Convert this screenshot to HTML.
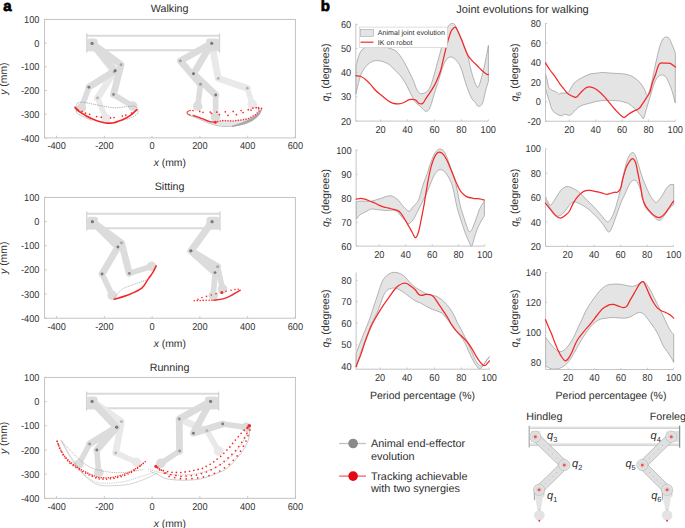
<!DOCTYPE html>
<html><head><meta charset="utf-8"><style>
html,body{margin:0;padding:0;background:#fff;}
svg{display:block;font-family:"Liberation Sans", sans-serif;text-rendering:geometricPrecision;}
</style></head><body>
<svg width="685" height="528" viewBox="0 0 685 528">
<rect width="685" height="528" fill="#fff"/>
<text x="3.2" y="11" font-size="15" font-weight="bold" fill="#000" stroke="#000" stroke-width="0.7">a</text>
<rect x="44.6" y="19.40" width="250.80" height="118.50" fill="none" stroke="#bdbdbd" stroke-width="0.9"/>
<line x1="56.60" y1="137.90" x2="56.60" y2="135.70" stroke="#bdbdbd" stroke-width="0.8"/>
<text x="0" y="0" font-size="10.0" text-anchor="middle" fill="#333" transform="translate(56.60,149.40) scale(0.92,1)">-400</text>
<line x1="104.36" y1="137.90" x2="104.36" y2="135.70" stroke="#bdbdbd" stroke-width="0.8"/>
<text x="0" y="0" font-size="10.0" text-anchor="middle" fill="#333" transform="translate(104.36,149.40) scale(0.92,1)">-200</text>
<line x1="152.12" y1="137.90" x2="152.12" y2="135.70" stroke="#bdbdbd" stroke-width="0.8"/>
<text x="0" y="0" font-size="10.0" text-anchor="middle" fill="#333" transform="translate(152.12,149.40) scale(0.92,1)">0</text>
<line x1="199.88" y1="137.90" x2="199.88" y2="135.70" stroke="#bdbdbd" stroke-width="0.8"/>
<text x="0" y="0" font-size="10.0" text-anchor="middle" fill="#333" transform="translate(199.88,149.40) scale(0.92,1)">200</text>
<line x1="247.64" y1="137.90" x2="247.64" y2="135.70" stroke="#bdbdbd" stroke-width="0.8"/>
<text x="0" y="0" font-size="10.0" text-anchor="middle" fill="#333" transform="translate(247.64,149.40) scale(0.92,1)">400</text>
<line x1="295.40" y1="137.90" x2="295.40" y2="135.70" stroke="#bdbdbd" stroke-width="0.8"/>
<text x="0" y="0" font-size="10.0" text-anchor="middle" fill="#333" transform="translate(295.40,149.40) scale(0.92,1)">600</text>
<line x1="44.6" y1="19.40" x2="46.8" y2="19.40" stroke="#bdbdbd" stroke-width="0.8"/>
<text x="0" y="0" font-size="10.0" text-anchor="end" fill="#333" transform="translate(39.40,23.00) scale(0.92,1)">100</text>
<line x1="44.6" y1="43.10" x2="46.8" y2="43.10" stroke="#bdbdbd" stroke-width="0.8"/>
<text x="0" y="0" font-size="10.0" text-anchor="end" fill="#333" transform="translate(39.40,46.70) scale(0.92,1)">0</text>
<line x1="44.6" y1="66.80" x2="46.8" y2="66.80" stroke="#bdbdbd" stroke-width="0.8"/>
<text x="0" y="0" font-size="10.0" text-anchor="end" fill="#333" transform="translate(39.40,70.40) scale(0.92,1)">-100</text>
<line x1="44.6" y1="90.50" x2="46.8" y2="90.50" stroke="#bdbdbd" stroke-width="0.8"/>
<text x="0" y="0" font-size="10.0" text-anchor="end" fill="#333" transform="translate(39.40,94.10) scale(0.92,1)">-200</text>
<line x1="44.6" y1="114.20" x2="46.8" y2="114.20" stroke="#bdbdbd" stroke-width="0.8"/>
<text x="0" y="0" font-size="10.0" text-anchor="end" fill="#333" transform="translate(39.40,117.80) scale(0.92,1)">-300</text>
<line x1="44.6" y1="137.90" x2="46.8" y2="137.90" stroke="#bdbdbd" stroke-width="0.8"/>
<text x="0" y="0" font-size="10.0" text-anchor="end" fill="#333" transform="translate(39.40,141.50) scale(0.92,1)">-400</text>
<text x="169.60" y="12.30" font-size="10.7" text-anchor="middle" fill="#2e2e2e" font-weight="normal" >Walking</text>
<text x="169.8" y="166.20" font-size="10.4" text-anchor="middle" fill="#2e2e2e"><tspan font-style="italic">x</tspan> (mm)</text>
<text x="0" y="0" font-size="10.4" text-anchor="middle" fill="#2e2e2e" transform="translate(7.3,78.65) rotate(-90)"><tspan font-style="italic">y</tspan> (mm)</text>
<line x1="86.8" y1="35.80" x2="219.5" y2="35.80" stroke="#dadada" stroke-width="2"/>
<line x1="86.8" y1="50.20" x2="219.5" y2="50.20" stroke="#dadada" stroke-width="2"/>
<line x1="86.8" y1="33.60" x2="86.8" y2="52.60" stroke="#d2d2d2" stroke-width="1.3"/>
<line x1="219.5" y1="33.60" x2="219.5" y2="52.60" stroke="#d2d2d2" stroke-width="1.3"/>
<path d="M92.10,43.40 L114.00,72.00 L97.50,98.00" fill="none" stroke="#e9e9e9" stroke-width="6.8" stroke-linecap="round" stroke-linejoin="round"/>
<line x1="97.50" y1="98.00" x2="105.90" y2="118.40" stroke="#e9e9e9" stroke-width="5.6" stroke-linecap="round"/>
<circle cx="105.90" cy="118.40" r="4.8" fill="#e9e9e9"/>
<path d="M92.10,43.40 L115.20,70.70 L88.90,87.20" fill="none" stroke="#dcdcdc" stroke-width="6.8" stroke-linecap="round" stroke-linejoin="round"/>
<line x1="88.90" y1="87.20" x2="81.40" y2="107.90" stroke="#dcdcdc" stroke-width="5.6" stroke-linecap="round"/>
<circle cx="81.40" cy="107.90" r="4.8" fill="#dcdcdc"/>
<path d="M92.10,43.40 L121.10,64.70 L113.50,94.50" fill="none" stroke="#dcdcdc" stroke-width="6.8" stroke-linecap="round" stroke-linejoin="round"/>
<line x1="113.50" y1="94.50" x2="132.70" y2="106.10" stroke="#dcdcdc" stroke-width="5.6" stroke-linecap="round"/>
<circle cx="132.70" cy="106.10" r="4.8" fill="#dcdcdc"/>
<rect x="86.80" y="38.50" width="10.90" height="12.80" rx="3.2" fill="#dcdcdc"/>
<circle cx="92.10" cy="43.40" r="1.6" fill="#7a7a7a"/>
<path d="M211.70,43.30 L218.20,78.40 L247.30,88.20" fill="none" stroke="#e9e9e9" stroke-width="6.8" stroke-linecap="round" stroke-linejoin="round"/>
<line x1="247.30" y1="88.20" x2="252.30" y2="104.50" stroke="#e9e9e9" stroke-width="5.6" stroke-linecap="round"/>
<circle cx="252.30" cy="104.50" r="4.8" fill="#e9e9e9"/>
<path d="M211.70,43.30 L180.30,60.90 L200.50,84.30" fill="none" stroke="#dcdcdc" stroke-width="6.8" stroke-linecap="round" stroke-linejoin="round"/>
<line x1="200.50" y1="84.30" x2="197.70" y2="106.20" stroke="#dcdcdc" stroke-width="5.6" stroke-linecap="round"/>
<circle cx="197.70" cy="106.20" r="4.8" fill="#dcdcdc"/>
<path d="M211.70,43.30 L193.50,73.70 L215.70,95.00" fill="none" stroke="#dcdcdc" stroke-width="6.8" stroke-linecap="round" stroke-linejoin="round"/>
<line x1="215.70" y1="95.00" x2="215.50" y2="117.30" stroke="#dcdcdc" stroke-width="5.6" stroke-linecap="round"/>
<circle cx="215.50" cy="117.30" r="4.8" fill="#dcdcdc"/>
<rect x="206.10" y="38.40" width="13.40" height="12.80" rx="3.2" fill="#dcdcdc"/>
<circle cx="211.70" cy="43.30" r="1.6" fill="#7a7a7a"/>
<circle cx="114.00" cy="72.00" r="1.45" fill="#b4b4b4"/>
<circle cx="97.50" cy="98.00" r="1.45" fill="#b4b4b4"/>
<circle cx="115.20" cy="70.70" r="1.45" fill="#6e6e6e"/>
<circle cx="88.90" cy="87.20" r="1.45" fill="#7c7c7c"/>
<circle cx="121.10" cy="64.70" r="1.45" fill="#a6a6a6"/>
<circle cx="113.50" cy="94.50" r="1.45" fill="#8a8a8a"/>
<circle cx="218.20" cy="78.40" r="1.45" fill="#b4b4b4"/>
<circle cx="247.30" cy="88.20" r="1.45" fill="#b4b4b4"/>
<circle cx="180.30" cy="60.90" r="1.45" fill="#a0a0a0"/>
<circle cx="200.50" cy="84.30" r="1.45" fill="#9a9a9a"/>
<circle cx="193.50" cy="73.70" r="1.45" fill="#6e6e6e"/>
<circle cx="215.70" cy="95.00" r="1.45" fill="#777"/>
<path d="M76.20,106.70 C76.38,106.12 76.33,103.95 77.30,103.20 C78.27,102.45 79.65,102.10 82.00,102.20 C84.35,102.30 87.90,103.15 91.40,103.80 C94.90,104.45 99.12,105.43 103.00,106.10 C106.88,106.77 110.80,107.70 114.70,107.80 C118.60,107.90 123.28,106.98 126.40,106.70 C129.52,106.42 131.65,105.92 133.40,106.10 C135.15,106.28 136.13,106.73 136.90,107.80 C137.67,108.87 138.58,111.03 138.00,112.50 C137.42,113.97 135.33,115.43 133.40,116.60 C131.47,117.77 127.57,119.02 126.40,119.50" fill="none" stroke="#808080" stroke-width="0.6" stroke-dasharray="1.3,0.9"/>
<path d="M76.20,106.70 C76.30,107.67 75.83,110.95 76.80,112.50 C77.77,114.05 79.47,114.67 82.00,116.00 C84.53,117.33 90.33,119.75 92.00,120.50" fill="none" stroke="#a0a0a0" stroke-width="0.6"/>
<path d="M75.00,107.30 C75.78,108.07 77.95,110.55 79.70,111.90 C81.45,113.25 83.55,114.32 85.50,115.40 C87.45,116.48 89.25,117.42 91.40,118.40 C93.55,119.38 96.07,120.53 98.40,121.30 C100.73,122.07 103.07,122.72 105.40,123.00 C107.73,123.28 110.27,123.28 112.40,123.00 C114.53,122.72 116.07,122.07 118.20,121.30 C120.33,120.53 123.05,119.47 125.20,118.40 C127.35,117.33 129.15,116.37 131.10,114.90 C133.05,113.43 135.93,110.48 136.90,109.60" fill="none" stroke="#f42828" stroke-width="1.7" stroke-linecap="round" stroke-linejoin="round"/>
<circle cx="77.9" cy="110.2" r="0.85" fill="#f42828"/>
<circle cx="82" cy="111.4" r="0.85" fill="#f42828"/>
<circle cx="85.5" cy="113.1" r="0.85" fill="#f42828"/>
<circle cx="89.6" cy="114.3" r="0.85" fill="#f42828"/>
<circle cx="96.6" cy="116.6" r="0.85" fill="#f42828"/>
<circle cx="101.3" cy="117.2" r="0.85" fill="#f42828"/>
<circle cx="110.6" cy="117.8" r="0.85" fill="#f42828"/>
<circle cx="114.1" cy="117.5" r="0.85" fill="#f42828"/>
<circle cx="122.3" cy="116" r="0.85" fill="#f42828"/>
<circle cx="125.8" cy="115.1" r="0.85" fill="#f42828"/>
<circle cx="131.6" cy="113.1" r="0.85" fill="#f42828"/>
<path d="M74.5,106.5 L77.5,109 L78.5,112 L76,110 Z" fill="#f42828"/>
<path d="M187.90,114.70 C189.87,115.47 195.53,117.65 199.70,119.30 C203.87,120.95 208.52,123.40 212.90,124.60 C217.28,125.80 221.63,126.40 226.00,126.50 C230.37,126.60 234.93,126.07 239.10,125.20 C243.27,124.33 247.72,123.05 251.00,121.30 C254.28,119.55 257.05,116.67 258.80,114.70 C260.55,112.73 261.05,110.37 261.50,109.50 L259.00,111.00 C258.43,111.62 257.38,113.42 255.60,114.70 C253.82,115.98 250.60,117.82 248.30,118.70 C246.00,119.58 244.42,119.62 241.80,120.00 C239.18,120.38 235.90,120.90 232.60,121.00 C229.30,121.10 224.90,120.38 222.00,120.60 C219.10,120.82 217.38,122.18 215.20,122.30 C213.02,122.42 211.05,121.90 208.90,121.30 C206.75,120.70 204.93,119.68 202.30,118.70 C199.67,117.72 194.63,115.95 193.10,115.40 Z" fill="#e6e6e6" stroke="none"/>
<path d="M187.90,114.70 C189.87,115.47 195.53,117.65 199.70,119.30 C203.87,120.95 208.52,123.40 212.90,124.60 C217.28,125.80 221.63,126.40 226.00,126.50 C230.37,126.60 234.93,126.07 239.10,125.20 C243.27,124.33 247.72,123.05 251.00,121.30 C254.28,119.55 257.05,116.67 258.80,114.70 C260.55,112.73 261.05,110.37 261.50,109.50" fill="none" stroke="#c4c4c4" stroke-width="1.0"/>
<path d="M232,126.3 Q251,124 258.8,114.7 L261.5,109.5 Q255,120 232,126.3 Z" fill="#a8a8a8" stroke="#a8a8a8" stroke-width="1.2"/>
<path d="M190.50,110.40 L187.30,111.50 L187.00,113.60 L190.50,115.20" fill="none" stroke="#f42828" stroke-width="1.0" stroke-linecap="round" stroke-linejoin="round"/>
<circle cx="193" cy="110.5" r="0.85" fill="#f42828"/>
<circle cx="199.7" cy="111.4" r="0.85" fill="#f42828"/>
<circle cx="210.2" cy="112.1" r="0.85" fill="#f42828"/>
<circle cx="216.8" cy="112.1" r="0.85" fill="#f42828"/>
<circle cx="225.3" cy="111.8" r="0.85" fill="#f42828"/>
<circle cx="233.2" cy="111.4" r="0.85" fill="#f42828"/>
<circle cx="241.1" cy="110.5" r="0.85" fill="#f42828"/>
<circle cx="248.3" cy="109.7" r="0.85" fill="#f42828"/>
<circle cx="252.9" cy="108.1" r="0.85" fill="#f42828"/>
<circle cx="256.2" cy="107.7" r="0.85" fill="#f42828"/>
<circle cx="258.5" cy="107.6" r="0.85" fill="#f42828"/>
<circle cx="261.5" cy="108.4" r="0.85" fill="#f42828"/>
<circle cx="203" cy="112.3" r="0.85" fill="#f42828"/>
<circle cx="211.5" cy="113.4" r="0.85" fill="#f42828"/>
<circle cx="219.4" cy="114.7" r="0.85" fill="#f42828"/>
<circle cx="228" cy="115.4" r="0.85" fill="#f42828"/>
<circle cx="236.5" cy="114.7" r="0.85" fill="#f42828"/>
<circle cx="243.1" cy="112.5" r="0.85" fill="#f42828"/>
<circle cx="251" cy="110.1" r="0.85" fill="#f42828"/>
<circle cx="258.8" cy="108.8" r="0.85" fill="#f42828"/>
<path d="M193.10,115.40 C194.63,115.95 199.67,117.72 202.30,118.70 C204.93,119.68 206.75,120.70 208.90,121.30 C211.05,121.90 214.15,122.13 215.20,122.30" fill="none" stroke="#f42828" stroke-width="1.3" stroke-linecap="round" stroke-linejoin="round"/>
<circle cx="215.20" cy="122.30" r="0.8" fill="#f42828"/>
<circle cx="217.72" cy="121.67" r="0.8" fill="#f42828"/>
<circle cx="220.24" cy="121.04" r="0.8" fill="#f42828"/>
<circle cx="222.79" cy="120.63" r="0.8" fill="#f42828"/>
<circle cx="225.39" cy="120.73" r="0.8" fill="#f42828"/>
<circle cx="227.99" cy="120.83" r="0.8" fill="#f42828"/>
<circle cx="230.58" cy="120.92" r="0.8" fill="#f42828"/>
<circle cx="233.18" cy="120.94" r="0.8" fill="#f42828"/>
<circle cx="235.76" cy="120.66" r="0.8" fill="#f42828"/>
<circle cx="238.35" cy="120.38" r="0.8" fill="#f42828"/>
<circle cx="240.93" cy="120.09" r="0.8" fill="#f42828"/>
<circle cx="243.50" cy="119.66" r="0.8" fill="#f42828"/>
<circle cx="246.04" cy="119.15" r="0.8" fill="#f42828"/>
<circle cx="248.56" cy="118.56" r="0.8" fill="#f42828"/>
<circle cx="250.84" cy="117.31" r="0.8" fill="#f42828"/>
<circle cx="253.12" cy="116.06" r="0.8" fill="#f42828"/>
<circle cx="255.40" cy="114.81" r="0.8" fill="#f42828"/>
<circle cx="257.21" cy="112.95" r="0.8" fill="#f42828"/>
<circle cx="258.97" cy="111.04" r="0.8" fill="#f42828"/>
<circle cx="215.3" cy="122.2" r="1.5" fill="#f42828"/>
<rect x="44.6" y="197.40" width="250.80" height="120.80" fill="none" stroke="#bdbdbd" stroke-width="0.9"/>
<line x1="56.60" y1="318.20" x2="56.60" y2="316.00" stroke="#bdbdbd" stroke-width="0.8"/>
<text x="0" y="0" font-size="10.0" text-anchor="middle" fill="#333" transform="translate(56.60,329.70) scale(0.92,1)">-400</text>
<line x1="104.36" y1="318.20" x2="104.36" y2="316.00" stroke="#bdbdbd" stroke-width="0.8"/>
<text x="0" y="0" font-size="10.0" text-anchor="middle" fill="#333" transform="translate(104.36,329.70) scale(0.92,1)">-200</text>
<line x1="152.12" y1="318.20" x2="152.12" y2="316.00" stroke="#bdbdbd" stroke-width="0.8"/>
<text x="0" y="0" font-size="10.0" text-anchor="middle" fill="#333" transform="translate(152.12,329.70) scale(0.92,1)">0</text>
<line x1="199.88" y1="318.20" x2="199.88" y2="316.00" stroke="#bdbdbd" stroke-width="0.8"/>
<text x="0" y="0" font-size="10.0" text-anchor="middle" fill="#333" transform="translate(199.88,329.70) scale(0.92,1)">200</text>
<line x1="247.64" y1="318.20" x2="247.64" y2="316.00" stroke="#bdbdbd" stroke-width="0.8"/>
<text x="0" y="0" font-size="10.0" text-anchor="middle" fill="#333" transform="translate(247.64,329.70) scale(0.92,1)">400</text>
<line x1="295.40" y1="318.20" x2="295.40" y2="316.00" stroke="#bdbdbd" stroke-width="0.8"/>
<text x="0" y="0" font-size="10.0" text-anchor="middle" fill="#333" transform="translate(295.40,329.70) scale(0.92,1)">600</text>
<line x1="44.6" y1="197.40" x2="46.8" y2="197.40" stroke="#bdbdbd" stroke-width="0.8"/>
<text x="0" y="0" font-size="10.0" text-anchor="end" fill="#333" transform="translate(39.40,201.00) scale(0.92,1)">100</text>
<line x1="44.6" y1="221.56" x2="46.8" y2="221.56" stroke="#bdbdbd" stroke-width="0.8"/>
<text x="0" y="0" font-size="10.0" text-anchor="end" fill="#333" transform="translate(39.40,225.16) scale(0.92,1)">0</text>
<line x1="44.6" y1="245.72" x2="46.8" y2="245.72" stroke="#bdbdbd" stroke-width="0.8"/>
<text x="0" y="0" font-size="10.0" text-anchor="end" fill="#333" transform="translate(39.40,249.32) scale(0.92,1)">-100</text>
<line x1="44.6" y1="269.88" x2="46.8" y2="269.88" stroke="#bdbdbd" stroke-width="0.8"/>
<text x="0" y="0" font-size="10.0" text-anchor="end" fill="#333" transform="translate(39.40,273.48) scale(0.92,1)">-200</text>
<line x1="44.6" y1="294.04" x2="46.8" y2="294.04" stroke="#bdbdbd" stroke-width="0.8"/>
<text x="0" y="0" font-size="10.0" text-anchor="end" fill="#333" transform="translate(39.40,297.64) scale(0.92,1)">-300</text>
<line x1="44.6" y1="318.20" x2="46.8" y2="318.20" stroke="#bdbdbd" stroke-width="0.8"/>
<text x="0" y="0" font-size="10.0" text-anchor="end" fill="#333" transform="translate(39.40,321.80) scale(0.92,1)">-400</text>
<text x="169.60" y="189.50" font-size="10.7" text-anchor="middle" fill="#2e2e2e" font-weight="normal" >Sitting</text>
<text x="169.8" y="346.50" font-size="10.4" text-anchor="middle" fill="#2e2e2e"><tspan font-style="italic">x</tspan> (mm)</text>
<text x="0" y="0" font-size="10.4" text-anchor="middle" fill="#2e2e2e" transform="translate(7.3,257.80) rotate(-90)"><tspan font-style="italic">y</tspan> (mm)</text>
<line x1="86.8" y1="213.80" x2="220.0" y2="213.80" stroke="#dadada" stroke-width="2"/>
<line x1="86.8" y1="228.20" x2="220.0" y2="228.20" stroke="#dadada" stroke-width="2"/>
<line x1="86.8" y1="211.60" x2="86.8" y2="230.60" stroke="#d2d2d2" stroke-width="1.3"/>
<line x1="220.0" y1="211.60" x2="220.0" y2="230.60" stroke="#d2d2d2" stroke-width="1.3"/>
<path d="M92.40,221.70 L117.90,247.00 L102.10,274.00" fill="none" stroke="#dcdcdc" stroke-width="6.8" stroke-linecap="round" stroke-linejoin="round"/>
<line x1="102.10" y1="274.00" x2="112.20" y2="295.30" stroke="#dcdcdc" stroke-width="5.6" stroke-linecap="round"/>
<circle cx="112.20" cy="295.30" r="4.8" fill="#dcdcdc"/>
<path d="M92.40,221.70 L121.50,242.90 L129.30,273.40" fill="none" stroke="#dcdcdc" stroke-width="6.8" stroke-linecap="round" stroke-linejoin="round"/>
<line x1="129.30" y1="273.40" x2="151.60" y2="266.40" stroke="#dcdcdc" stroke-width="5.6" stroke-linecap="round"/>
<circle cx="151.60" cy="266.40" r="4.8" fill="#dcdcdc"/>
<rect x="86.80" y="216.80" width="11.20" height="12.80" rx="3.2" fill="#dcdcdc"/>
<circle cx="92.40" cy="221.70" r="1.6" fill="#7a7a7a"/>
<path d="M212.10,221.70 L190.90,250.90 L215.00,272.60" fill="none" stroke="#dcdcdc" stroke-width="6.8" stroke-linecap="round" stroke-linejoin="round"/>
<line x1="215.00" y1="272.60" x2="213.30" y2="295.60" stroke="#dcdcdc" stroke-width="5.6" stroke-linecap="round"/>
<circle cx="213.30" cy="295.60" r="4.8" fill="#dcdcdc"/>
<path d="M212.10,221.70 L190.90,250.90 L217.60,266.70" fill="none" stroke="#dcdcdc" stroke-width="6.8" stroke-linecap="round" stroke-linejoin="round"/>
<line x1="217.60" y1="266.70" x2="222.50" y2="289.00" stroke="#dcdcdc" stroke-width="5.6" stroke-linecap="round"/>
<circle cx="222.50" cy="289.00" r="4.8" fill="#dcdcdc"/>
<rect x="206.50" y="216.80" width="13.50" height="12.80" rx="3.2" fill="#dcdcdc"/>
<circle cx="212.10" cy="221.70" r="1.6" fill="#7a7a7a"/>
<circle cx="117.90" cy="247.00" r="1.45" fill="#7a7a7a"/>
<circle cx="102.10" cy="274.00" r="1.45" fill="#7a7a7a"/>
<circle cx="121.50" cy="242.90" r="1.45" fill="#a8a8a8"/>
<circle cx="129.30" cy="273.40" r="1.45" fill="#8c8c8c"/>
<circle cx="190.90" cy="250.90" r="1.45" fill="#7a7a7a"/>
<circle cx="215.00" cy="272.60" r="1.45" fill="#7a7a7a"/>
<circle cx="190.90" cy="250.90" r="1.45" fill="#777"/>
<circle cx="217.60" cy="266.70" r="1.45" fill="#a6a6a6"/>
<path d="M114.50,298.00 C115.75,296.57 118.98,291.60 122.00,289.40 C125.02,287.20 128.43,286.43 132.60,284.80 C136.77,283.17 143.77,281.23 147.00,279.60 C150.23,277.97 151.17,275.77 152.00,275.00" fill="none" stroke="#8a8a8a" stroke-width="0.6" stroke-dasharray="1.2,0.8"/>
<path d="M114.20,299.30 C116.60,298.53 124.00,296.57 128.60,294.70 C133.20,292.83 138.52,290.73 141.80,288.10 C145.08,285.47 146.45,281.53 148.30,278.90 C150.15,276.27 151.58,274.48 152.90,272.30 C154.22,270.12 155.65,266.88 156.20,265.80" fill="none" stroke="#f42828" stroke-width="1.5" stroke-linecap="round" stroke-linejoin="round"/>
<circle cx="194.2" cy="300.8" r="0.8" fill="#f42828"/>
<circle cx="197.2" cy="300.6" r="0.8" fill="#f42828"/>
<circle cx="200.2" cy="300.5" r="0.8" fill="#f42828"/>
<circle cx="203.2" cy="300.4" r="0.8" fill="#f42828"/>
<circle cx="206.2" cy="300.3" r="0.8" fill="#f42828"/>
<circle cx="209.2" cy="300.3" r="0.8" fill="#f42828"/>
<circle cx="212" cy="300.3" r="0.8" fill="#f42828"/>
<path d="M213.90,300.20 C215.43,299.98 220.25,299.67 223.10,298.90 C225.95,298.13 228.85,296.65 231.00,295.60 C233.15,294.55 234.47,293.48 236.00,292.60 C237.53,291.72 239.50,290.68 240.20,290.30" fill="none" stroke="#f42828" stroke-width="1.4" stroke-linecap="round" stroke-linejoin="round"/>
<circle cx="198" cy="299.2" r="0.8" fill="#f42828"/>
<circle cx="202" cy="297.6" r="0.8" fill="#f42828"/>
<circle cx="206.5" cy="296.4" r="0.8" fill="#f42828"/>
<circle cx="211.3" cy="295" r="0.8" fill="#f42828"/>
<circle cx="216" cy="293.8" r="0.8" fill="#f42828"/>
<circle cx="226" cy="291.3" r="0.8" fill="#f42828"/>
<circle cx="231" cy="290.3" r="0.8" fill="#f42828"/>
<circle cx="235" cy="289.5" r="0.8" fill="#f42828"/>
<circle cx="238.3" cy="289.2" r="0.8" fill="#f42828"/>
<circle cx="221.8" cy="292.4" r="1.5" fill="#f42828"/>
<rect x="44.6" y="377.40" width="250.80" height="120.90" fill="none" stroke="#bdbdbd" stroke-width="0.9"/>
<line x1="56.60" y1="498.30" x2="56.60" y2="496.10" stroke="#bdbdbd" stroke-width="0.8"/>
<text x="0" y="0" font-size="10.0" text-anchor="middle" fill="#333" transform="translate(56.60,509.80) scale(0.92,1)">-400</text>
<line x1="104.36" y1="498.30" x2="104.36" y2="496.10" stroke="#bdbdbd" stroke-width="0.8"/>
<text x="0" y="0" font-size="10.0" text-anchor="middle" fill="#333" transform="translate(104.36,509.80) scale(0.92,1)">-200</text>
<line x1="152.12" y1="498.30" x2="152.12" y2="496.10" stroke="#bdbdbd" stroke-width="0.8"/>
<text x="0" y="0" font-size="10.0" text-anchor="middle" fill="#333" transform="translate(152.12,509.80) scale(0.92,1)">0</text>
<line x1="199.88" y1="498.30" x2="199.88" y2="496.10" stroke="#bdbdbd" stroke-width="0.8"/>
<text x="0" y="0" font-size="10.0" text-anchor="middle" fill="#333" transform="translate(199.88,509.80) scale(0.92,1)">200</text>
<line x1="247.64" y1="498.30" x2="247.64" y2="496.10" stroke="#bdbdbd" stroke-width="0.8"/>
<text x="0" y="0" font-size="10.0" text-anchor="middle" fill="#333" transform="translate(247.64,509.80) scale(0.92,1)">400</text>
<line x1="295.40" y1="498.30" x2="295.40" y2="496.10" stroke="#bdbdbd" stroke-width="0.8"/>
<text x="0" y="0" font-size="10.0" text-anchor="middle" fill="#333" transform="translate(295.40,509.80) scale(0.92,1)">600</text>
<line x1="44.6" y1="377.40" x2="46.8" y2="377.40" stroke="#bdbdbd" stroke-width="0.8"/>
<text x="0" y="0" font-size="10.0" text-anchor="end" fill="#333" transform="translate(39.40,381.00) scale(0.92,1)">100</text>
<line x1="44.6" y1="401.58" x2="46.8" y2="401.58" stroke="#bdbdbd" stroke-width="0.8"/>
<text x="0" y="0" font-size="10.0" text-anchor="end" fill="#333" transform="translate(39.40,405.18) scale(0.92,1)">0</text>
<line x1="44.6" y1="425.76" x2="46.8" y2="425.76" stroke="#bdbdbd" stroke-width="0.8"/>
<text x="0" y="0" font-size="10.0" text-anchor="end" fill="#333" transform="translate(39.40,429.36) scale(0.92,1)">-100</text>
<line x1="44.6" y1="449.94" x2="46.8" y2="449.94" stroke="#bdbdbd" stroke-width="0.8"/>
<text x="0" y="0" font-size="10.0" text-anchor="end" fill="#333" transform="translate(39.40,453.54) scale(0.92,1)">-200</text>
<line x1="44.6" y1="474.12" x2="46.8" y2="474.12" stroke="#bdbdbd" stroke-width="0.8"/>
<text x="0" y="0" font-size="10.0" text-anchor="end" fill="#333" transform="translate(39.40,477.72) scale(0.92,1)">-300</text>
<line x1="44.6" y1="498.30" x2="46.8" y2="498.30" stroke="#bdbdbd" stroke-width="0.8"/>
<text x="0" y="0" font-size="10.0" text-anchor="end" fill="#333" transform="translate(39.40,501.90) scale(0.92,1)">-400</text>
<text x="169.60" y="370.80" font-size="10.7" text-anchor="middle" fill="#2e2e2e" font-weight="normal" >Running</text>
<text x="169.8" y="526.50" font-size="10.4" text-anchor="middle" fill="#2e2e2e"><tspan font-style="italic">x</tspan> (mm)</text>
<text x="0" y="0" font-size="10.4" text-anchor="middle" fill="#2e2e2e" transform="translate(7.3,437.85) rotate(-90)"><tspan font-style="italic">y</tspan> (mm)</text>
<line x1="86.6" y1="393.80" x2="218.6" y2="393.80" stroke="#dadada" stroke-width="2"/>
<line x1="86.6" y1="408.20" x2="218.6" y2="408.20" stroke="#dadada" stroke-width="2"/>
<line x1="86.6" y1="391.60" x2="86.6" y2="410.60" stroke="#d2d2d2" stroke-width="1.3"/>
<line x1="218.6" y1="391.60" x2="218.6" y2="410.60" stroke="#d2d2d2" stroke-width="1.3"/>
<path d="M92.05,401.40 L121.40,421.60 L115.70,452.90" fill="none" stroke="#e9e9e9" stroke-width="6.8" stroke-linecap="round" stroke-linejoin="round"/>
<line x1="115.70" y1="452.90" x2="136.50" y2="462.30" stroke="#e9e9e9" stroke-width="5.6" stroke-linecap="round"/>
<circle cx="136.50" cy="462.30" r="4.8" fill="#e9e9e9"/>
<path d="M92.05,401.40 L116.70,427.30 L89.60,444.00" fill="none" stroke="#dcdcdc" stroke-width="6.8" stroke-linecap="round" stroke-linejoin="round"/>
<line x1="89.60" y1="444.00" x2="78.80" y2="464.20" stroke="#dcdcdc" stroke-width="5.6" stroke-linecap="round"/>
<circle cx="78.80" cy="464.20" r="4.8" fill="#dcdcdc"/>
<path d="M92.05,401.40 L116.70,427.30 L96.80,450.00" fill="none" stroke="#dcdcdc" stroke-width="6.8" stroke-linecap="round" stroke-linejoin="round"/>
<line x1="96.80" y1="450.00" x2="98.70" y2="472.70" stroke="#dcdcdc" stroke-width="5.6" stroke-linecap="round"/>
<circle cx="98.70" cy="472.70" r="4.8" fill="#dcdcdc"/>
<rect x="86.60" y="396.50" width="11.05" height="12.80" rx="3.2" fill="#dcdcdc"/>
<circle cx="92.05" cy="401.40" r="1.6" fill="#7a7a7a"/>
<path d="M210.60,401.40 L179.20,419.00 L206.90,430.70" fill="none" stroke="#e9e9e9" stroke-width="6.8" stroke-linecap="round" stroke-linejoin="round"/>
<line x1="206.90" y1="430.70" x2="218.60" y2="451.00" stroke="#e9e9e9" stroke-width="5.6" stroke-linecap="round"/>
<circle cx="218.60" cy="451.00" r="4.8" fill="#e9e9e9"/>
<path d="M210.60,401.40 L179.20,419.00 L179.60,451.00" fill="none" stroke="#dcdcdc" stroke-width="6.8" stroke-linecap="round" stroke-linejoin="round"/>
<line x1="179.60" y1="451.00" x2="160.80" y2="463.30" stroke="#dcdcdc" stroke-width="5.6" stroke-linecap="round"/>
<circle cx="160.80" cy="463.30" r="4.8" fill="#dcdcdc"/>
<path d="M210.60,401.40 L193.40,433.20 L222.70,423.90" fill="none" stroke="#dcdcdc" stroke-width="6.8" stroke-linecap="round" stroke-linejoin="round"/>
<line x1="222.70" y1="423.90" x2="246.00" y2="427.30" stroke="#dcdcdc" stroke-width="5.6" stroke-linecap="round"/>
<circle cx="246.00" cy="427.30" r="4.8" fill="#dcdcdc"/>
<rect x="205.00" y="396.50" width="13.60" height="12.80" rx="3.2" fill="#dcdcdc"/>
<circle cx="210.60" cy="401.40" r="1.6" fill="#7a7a7a"/>
<circle cx="121.40" cy="421.60" r="1.45" fill="#b4b4b4"/>
<circle cx="115.70" cy="452.90" r="1.45" fill="#b4b4b4"/>
<circle cx="116.70" cy="427.30" r="1.45" fill="#6e6e6e"/>
<circle cx="89.60" cy="444.00" r="1.45" fill="#9a9a9a"/>
<circle cx="116.70" cy="427.30" r="1.45" fill="#7a7a7a"/>
<circle cx="96.80" cy="450.00" r="1.45" fill="#7a7a7a"/>
<circle cx="179.20" cy="419.00" r="1.45" fill="#b4b4b4"/>
<circle cx="206.90" cy="430.70" r="1.45" fill="#b4b4b4"/>
<circle cx="179.20" cy="419.00" r="1.45" fill="#9a9a9a"/>
<circle cx="179.60" cy="451.00" r="1.45" fill="#9a9a9a"/>
<circle cx="193.40" cy="433.20" r="1.45" fill="#7a7a7a"/>
<circle cx="222.70" cy="423.90" r="1.45" fill="#7a7a7a"/>
<path d="M61.20,440.60 C62.55,442.08 66.35,446.42 69.30,449.50 C72.25,452.58 75.43,456.17 78.90,459.10 C82.37,462.03 86.08,465.10 90.10,467.10 C94.12,469.10 98.45,470.17 103.00,471.10 C107.55,472.03 112.85,472.57 117.40,472.70 C121.95,472.83 126.02,472.43 130.30,471.90 C134.58,471.37 140.97,469.90 143.10,469.50" fill="none" stroke="#858585" stroke-width="0.55" stroke-dasharray="1.3,0.9"/>
<path d="M61.20,440.60 C62.67,443.00 66.52,449.77 70.00,455.00 C73.48,460.23 77.93,467.57 82.10,472.00 C86.27,476.43 90.72,479.73 95.00,481.60 C99.28,483.47 102.98,483.20 107.80,483.20 C112.62,483.20 118.55,482.67 123.90,481.60 C129.25,480.53 135.08,478.28 139.90,476.80 C144.72,475.32 150.65,473.38 152.80,472.70" fill="none" stroke="#9a9a9a" stroke-width="0.5" stroke-dasharray="1.3,0.9"/>
<path d="M61.20,440.60 C63.00,443.83 68.03,454.10 72.00,460.00 C75.97,465.90 80.63,471.87 85.00,476.00 C89.37,480.13 93.33,483.20 98.20,484.80 C103.07,486.40 108.85,485.73 114.20,485.60 C119.55,485.47 124.93,485.20 130.30,484.00 C135.67,482.80 141.85,480.28 146.40,478.40 C150.95,476.52 155.73,473.65 157.60,472.70" fill="none" stroke="#a8a8a8" stroke-width="0.5"/>
<circle cx="57.20" cy="441.40" r="0.8" fill="#f42828"/>
<circle cx="58.04" cy="443.65" r="0.8" fill="#f42828"/>
<circle cx="58.89" cy="445.89" r="0.8" fill="#f42828"/>
<circle cx="59.78" cy="448.12" r="0.8" fill="#f42828"/>
<circle cx="60.95" cy="450.21" r="0.8" fill="#f42828"/>
<circle cx="62.13" cy="452.30" r="0.8" fill="#f42828"/>
<circle cx="63.30" cy="454.40" r="0.8" fill="#f42828"/>
<circle cx="64.75" cy="456.30" r="0.8" fill="#f42828"/>
<circle cx="66.33" cy="458.10" r="0.8" fill="#f42828"/>
<circle cx="67.91" cy="459.91" r="0.8" fill="#f42828"/>
<circle cx="69.53" cy="461.67" r="0.8" fill="#f42828"/>
<circle cx="71.45" cy="463.11" r="0.8" fill="#f42828"/>
<circle cx="73.37" cy="464.55" r="0.8" fill="#f42828"/>
<circle cx="75.29" cy="465.99" r="0.8" fill="#f42828"/>
<circle cx="77.30" cy="467.30" r="0.8" fill="#f42828"/>
<circle cx="79.34" cy="468.57" r="0.8" fill="#f42828"/>
<circle cx="81.37" cy="469.84" r="0.8" fill="#f42828"/>
<circle cx="83.48" cy="470.99" r="0.8" fill="#f42828"/>
<circle cx="85.62" cy="472.06" r="0.8" fill="#f42828"/>
<circle cx="87.77" cy="473.14" r="0.8" fill="#f42828"/>
<circle cx="89.92" cy="474.21" r="0.8" fill="#f42828"/>
<circle cx="92.13" cy="475.13" r="0.8" fill="#f42828"/>
<circle cx="94.36" cy="476.03" r="0.8" fill="#f42828"/>
<circle cx="96.58" cy="476.94" r="0.8" fill="#f42828"/>
<circle cx="98.85" cy="477.63" r="0.8" fill="#f42828"/>
<circle cx="101.25" cy="477.75" r="0.8" fill="#f42828"/>
<circle cx="103.64" cy="477.87" r="0.8" fill="#f42828"/>
<circle cx="106.04" cy="477.99" r="0.8" fill="#f42828"/>
<circle cx="108.43" cy="477.75" r="0.8" fill="#f42828"/>
<circle cx="110.81" cy="477.48" r="0.8" fill="#f42828"/>
<circle cx="113.20" cy="477.21" r="0.8" fill="#f42828"/>
<circle cx="115.55" cy="476.77" r="0.8" fill="#f42828"/>
<circle cx="117.88" cy="476.19" r="0.8" fill="#f42828"/>
<circle cx="120.21" cy="475.62" r="0.8" fill="#f42828"/>
<circle cx="122.53" cy="475.01" r="0.8" fill="#f42828"/>
<circle cx="124.76" cy="474.12" r="0.8" fill="#f42828"/>
<circle cx="126.99" cy="473.23" r="0.8" fill="#f42828"/>
<circle cx="129.21" cy="472.33" r="0.8" fill="#f42828"/>
<circle cx="131.35" cy="471.27" r="0.8" fill="#f42828"/>
<circle cx="133.41" cy="470.03" r="0.8" fill="#f42828"/>
<circle cx="135.47" cy="468.80" r="0.8" fill="#f42828"/>
<circle cx="137.53" cy="467.56" r="0.8" fill="#f42828"/>
<circle cx="139.49" cy="466.19" r="0.8" fill="#f42828"/>
<circle cx="141.39" cy="464.73" r="0.8" fill="#f42828"/>
<circle cx="143.30" cy="463.27" r="0.8" fill="#f42828"/>
<circle cx="145.20" cy="461.80" r="0.8" fill="#f42828"/>
<circle cx="57.20" cy="441.40" r="0.8" fill="#f42828"/>
<circle cx="58.39" cy="444.90" r="0.8" fill="#f42828"/>
<circle cx="59.58" cy="448.41" r="0.8" fill="#f42828"/>
<circle cx="61.27" cy="451.70" r="0.8" fill="#f42828"/>
<circle cx="62.97" cy="454.98" r="0.8" fill="#f42828"/>
<circle cx="65.09" cy="457.99" r="0.8" fill="#f42828"/>
<circle cx="67.52" cy="460.77" r="0.8" fill="#f42828"/>
<circle cx="70.10" cy="463.40" r="0.8" fill="#f42828"/>
<circle cx="73.06" cy="465.62" r="0.8" fill="#f42828"/>
<circle cx="76.04" cy="467.81" r="0.8" fill="#f42828"/>
<circle cx="79.18" cy="469.77" r="0.8" fill="#f42828"/>
<circle cx="82.33" cy="471.71" r="0.8" fill="#f42828"/>
<circle cx="85.64" cy="473.37" r="0.8" fill="#f42828"/>
<circle cx="88.95" cy="475.02" r="0.8" fill="#f42828"/>
<circle cx="92.33" cy="476.51" r="0.8" fill="#f42828"/>
<circle cx="95.76" cy="477.91" r="0.8" fill="#f42828"/>
<circle cx="99.26" cy="478.95" r="0.8" fill="#f42828"/>
<circle cx="102.96" cy="479.14" r="0.8" fill="#f42828"/>
<circle cx="106.65" cy="479.25" r="0.8" fill="#f42828"/>
<circle cx="110.33" cy="478.84" r="0.8" fill="#f42828"/>
<circle cx="114.01" cy="478.42" r="0.8" fill="#f42828"/>
<circle cx="117.60" cy="477.56" r="0.8" fill="#f42828"/>
<circle cx="121.20" cy="476.67" r="0.8" fill="#f42828"/>
<circle cx="124.68" cy="475.45" r="0.8" fill="#f42828"/>
<circle cx="128.11" cy="474.07" r="0.8" fill="#f42828"/>
<circle cx="131.41" cy="472.44" r="0.8" fill="#f42828"/>
<circle cx="134.47" cy="470.36" r="0.8" fill="#f42828"/>
<circle cx="137.53" cy="468.28" r="0.8" fill="#f42828"/>
<circle cx="140.40" cy="465.95" r="0.8" fill="#f42828"/>
<circle cx="143.21" cy="463.54" r="0.8" fill="#f42828"/>
<path d="M150.00,471.40 C151.33,471.93 155.33,473.40 158.00,474.60 C160.67,475.80 162.00,477.67 166.00,478.60 C170.00,479.53 176.33,480.13 182.00,480.20 C187.67,480.27 194.50,480.03 200.00,479.00 C205.50,477.97 210.50,475.80 215.00,474.00 C219.50,472.20 222.83,471.45 227.00,468.20 C231.17,464.95 236.50,459.05 240.00,454.50 C243.50,449.95 246.33,445.32 248.00,440.90 C249.67,436.48 249.67,430.15 250.00,428.00" fill="none" stroke="#9a9a9a" stroke-width="0.5"/>
<path d="M148.00,469.00 C150.00,469.58 155.50,471.50 160.00,472.50 C164.50,473.50 169.17,474.75 175.00,475.00 C180.83,475.25 188.83,475.00 195.00,474.00 C201.17,473.00 206.83,471.17 212.00,469.00 C217.17,466.83 221.67,464.33 226.00,461.00 C230.33,457.67 234.67,453.17 238.00,449.00 C241.33,444.83 244.08,439.83 246.00,436.00 C247.92,432.17 248.92,427.67 249.50,426.00" fill="none" stroke="#888" stroke-width="0.5" stroke-dasharray="1.3,0.9"/>
<circle cx="155.60" cy="466.60" r="0.85" fill="#f42828"/>
<circle cx="159.45" cy="468.74" r="0.85" fill="#f42828"/>
<circle cx="163.35" cy="470.71" r="0.85" fill="#f42828"/>
<circle cx="167.67" cy="471.56" r="0.85" fill="#f42828"/>
<circle cx="172.01" cy="472.25" r="0.85" fill="#f42828"/>
<circle cx="176.40" cy="472.44" r="0.85" fill="#f42828"/>
<circle cx="180.79" cy="472.49" r="0.85" fill="#f42828"/>
<circle cx="185.15" cy="471.88" r="0.85" fill="#f42828"/>
<circle cx="189.51" cy="471.27" r="0.85" fill="#f42828"/>
<circle cx="193.81" cy="470.35" r="0.85" fill="#f42828"/>
<circle cx="198.10" cy="469.39" r="0.85" fill="#f42828"/>
<circle cx="202.39" cy="468.42" r="0.85" fill="#f42828"/>
<circle cx="206.26" cy="466.34" r="0.85" fill="#f42828"/>
<circle cx="210.12" cy="464.23" r="0.85" fill="#f42828"/>
<circle cx="213.77" cy="461.79" r="0.85" fill="#f42828"/>
<circle cx="217.21" cy="459.05" r="0.85" fill="#f42828"/>
<circle cx="220.65" cy="456.30" r="0.85" fill="#f42828"/>
<circle cx="223.81" cy="453.25" r="0.85" fill="#f42828"/>
<circle cx="226.90" cy="450.12" r="0.85" fill="#f42828"/>
<circle cx="229.88" cy="446.89" r="0.85" fill="#f42828"/>
<circle cx="232.63" cy="443.46" r="0.85" fill="#f42828"/>
<circle cx="235.40" cy="440.03" r="0.85" fill="#f42828"/>
<circle cx="238.24" cy="436.67" r="0.85" fill="#f42828"/>
<circle cx="241.13" cy="433.36" r="0.85" fill="#f42828"/>
<circle cx="244.21" cy="430.22" r="0.85" fill="#f42828"/>
<circle cx="247.43" cy="427.23" r="0.85" fill="#f42828"/>
<circle cx="157.00" cy="467.50" r="0.85" fill="#f42828"/>
<circle cx="161.44" cy="470.20" r="0.85" fill="#f42828"/>
<circle cx="165.89" cy="472.90" r="0.85" fill="#f42828"/>
<circle cx="170.74" cy="474.53" r="0.85" fill="#f42828"/>
<circle cx="175.86" cy="475.42" r="0.85" fill="#f42828"/>
<circle cx="180.98" cy="476.31" r="0.85" fill="#f42828"/>
<circle cx="186.14" cy="476.09" r="0.85" fill="#f42828"/>
<circle cx="191.32" cy="475.56" r="0.85" fill="#f42828"/>
<circle cx="196.49" cy="475.03" r="0.85" fill="#f42828"/>
<circle cx="201.47" cy="473.54" r="0.85" fill="#f42828"/>
<circle cx="206.43" cy="471.99" r="0.85" fill="#f42828"/>
<circle cx="211.12" cy="469.79" r="0.85" fill="#f42828"/>
<circle cx="215.68" cy="467.29" r="0.85" fill="#f42828"/>
<circle cx="220.15" cy="464.66" r="0.85" fill="#f42828"/>
<circle cx="224.13" cy="461.32" r="0.85" fill="#f42828"/>
<circle cx="228.09" cy="457.95" r="0.85" fill="#f42828"/>
<circle cx="231.90" cy="454.41" r="0.85" fill="#f42828"/>
<circle cx="235.53" cy="450.71" r="0.85" fill="#f42828"/>
<circle cx="238.74" cy="446.61" r="0.85" fill="#f42828"/>
<circle cx="241.72" cy="442.36" r="0.85" fill="#f42828"/>
<circle cx="244.48" cy="437.96" r="0.85" fill="#f42828"/>
<circle cx="246.82" cy="433.31" r="0.85" fill="#f42828"/>
<circle cx="159.60" cy="469.80" r="0.85" fill="#f42828"/>
<circle cx="164.37" cy="473.10" r="0.85" fill="#f42828"/>
<circle cx="169.14" cy="476.40" r="0.85" fill="#f42828"/>
<circle cx="174.69" cy="477.77" r="0.85" fill="#f42828"/>
<circle cx="180.41" cy="478.72" r="0.85" fill="#f42828"/>
<circle cx="186.18" cy="478.84" r="0.85" fill="#f42828"/>
<circle cx="191.98" cy="478.62" r="0.85" fill="#f42828"/>
<circle cx="197.73" cy="477.97" r="0.85" fill="#f42828"/>
<circle cx="203.42" cy="476.86" r="0.85" fill="#f42828"/>
<circle cx="209.04" cy="475.50" r="0.85" fill="#f42828"/>
<circle cx="214.42" cy="473.34" r="0.85" fill="#f42828"/>
<circle cx="219.72" cy="471.02" r="0.85" fill="#f42828"/>
<circle cx="224.55" cy="467.80" r="0.85" fill="#f42828"/>
<circle cx="229.17" cy="464.33" r="0.85" fill="#f42828"/>
<circle cx="233.27" cy="460.23" r="0.85" fill="#f42828"/>
<circle cx="237.12" cy="455.92" r="0.85" fill="#f42828"/>
<circle cx="240.46" cy="451.18" r="0.85" fill="#f42828"/>
<circle cx="243.40" cy="446.20" r="0.85" fill="#f42828"/>
<circle cx="245.99" cy="441.01" r="0.85" fill="#f42828"/>
<circle cx="248.04" cy="435.59" r="0.85" fill="#f42828"/>
<circle cx="249.96" cy="430.12" r="0.85" fill="#f42828"/>
<circle cx="249.3" cy="425.8" r="1.8" fill="#f42828"/>
<circle cx="247.5" cy="428" r="1.2" fill="#f42828"/>
<circle cx="155.8" cy="466.2" r="1.5" fill="#f42828"/>
<circle cx="157.6" cy="467.6" r="1.1" fill="#f42828"/>
<text x="320.8" y="10.7" font-size="15" font-weight="bold" fill="#000" stroke="#000" stroke-width="0.7">b</text>
<text x="522.50" y="12.60" font-size="11.1" text-anchor="middle" fill="#2e2e2e" font-weight="normal" >Joint evolutions for walking</text>
<path d="M355.90,66.70 C356.12,65.87 356.64,63.75 357.20,61.70 C357.76,59.65 358.22,56.58 359.25,54.40 C360.28,52.22 361.27,50.25 363.40,48.60 C365.52,46.95 369.23,45.18 372.00,44.50 C374.77,43.82 377.27,43.93 380.00,44.50 C382.73,45.07 385.95,46.95 388.40,47.90 C390.85,48.85 392.78,48.95 394.70,50.20 C396.62,51.45 398.17,53.14 399.90,55.40 C401.63,57.66 403.54,60.98 405.10,63.75 C406.66,66.52 407.87,69.22 409.25,72.00 C410.63,74.78 412.19,77.61 413.40,80.40 C414.61,83.19 415.45,86.62 416.50,88.75 C417.55,90.88 418.62,92.42 419.70,93.20 C420.78,93.98 421.98,93.53 423.00,93.40 C424.02,93.27 424.87,93.00 425.80,92.40 C426.73,91.80 427.65,91.28 428.60,89.80 C429.55,88.32 430.50,86.28 431.50,83.50 C432.50,80.72 433.57,76.73 434.60,73.10 C435.63,69.47 436.67,65.52 437.70,61.70 C438.73,57.88 439.75,54.15 440.80,50.20 C441.85,46.25 442.87,41.78 444.00,38.00 C445.13,34.22 446.39,29.90 447.60,27.50 C448.81,25.10 450.12,24.15 451.25,23.60 C452.38,23.05 453.62,23.72 454.40,24.20 C455.17,24.68 455.22,25.03 455.90,26.50 C456.58,27.97 457.53,30.62 458.50,33.00 C459.47,35.38 460.65,38.28 461.70,40.80 C462.75,43.32 463.77,45.48 464.80,48.10 C465.83,50.72 466.87,52.85 467.90,56.50 C468.93,60.15 469.95,66.02 471.00,70.00 C472.05,73.98 473.15,77.53 474.20,80.40 C475.25,83.27 476.43,86.50 477.30,87.20 C478.17,87.90 478.70,86.25 479.40,84.60 C480.10,82.95 480.82,79.73 481.50,77.30 C482.18,74.87 482.75,73.22 483.50,70.00 C484.25,66.78 485.18,62.08 486.00,58.00 C486.82,53.92 488.00,47.58 488.40,45.50 L488.40,81.50 C487.93,83.05 486.58,87.17 485.60,90.80 C484.62,94.43 483.72,100.72 482.50,103.30 C481.28,105.88 479.52,106.47 478.30,106.30 C477.08,106.13 476.42,103.83 475.20,102.30 C473.98,100.77 472.57,100.23 471.00,97.10 C469.43,93.97 467.53,88.52 465.80,83.50 C464.07,78.48 462.33,70.98 460.60,67.00 C458.87,63.02 457.13,61.27 455.40,59.60 C453.67,57.93 451.93,56.65 450.20,57.00 C448.47,57.35 446.57,59.02 445.00,61.70 C443.43,64.38 442.02,69.47 440.80,73.10 C439.58,76.73 438.73,80.20 437.70,83.50 C436.67,86.80 435.63,89.60 434.60,92.90 C433.57,96.20 432.45,100.52 431.50,103.30 C430.55,106.08 429.87,108.25 428.90,109.60 C427.93,110.95 426.67,111.48 425.70,111.40 C424.73,111.32 424.10,110.02 423.10,109.10 C422.10,108.18 420.97,107.03 419.70,105.90 C418.43,104.77 416.63,103.60 415.50,102.30 C414.37,101.00 413.94,100.02 412.90,98.10 C411.86,96.18 410.55,93.40 409.25,90.80 C407.95,88.20 406.66,85.10 405.10,82.50 C403.54,79.90 401.63,77.28 399.90,75.20 C398.17,73.12 396.43,71.73 394.70,70.00 C392.97,68.27 391.42,66.18 389.50,64.80 C387.58,63.42 385.28,62.40 383.20,61.70 C381.12,61.00 378.91,60.60 377.00,60.60 C375.09,60.60 373.50,60.83 371.75,61.70 C370.00,62.57 367.89,64.42 366.50,65.80 C365.11,67.18 364.35,68.47 363.40,70.00 C362.45,71.53 361.70,72.50 360.80,75.00 C359.90,77.50 358.82,81.80 358.00,85.00 C357.18,88.20 356.25,92.67 355.90,94.20 Z" fill="#e4e4e4" stroke="none"/>
<path d="M355.90,66.70 C356.12,65.87 356.64,63.75 357.20,61.70 C357.76,59.65 358.22,56.58 359.25,54.40 C360.28,52.22 361.27,50.25 363.40,48.60 C365.52,46.95 369.23,45.18 372.00,44.50 C374.77,43.82 377.27,43.93 380.00,44.50 C382.73,45.07 385.95,46.95 388.40,47.90 C390.85,48.85 392.78,48.95 394.70,50.20 C396.62,51.45 398.17,53.14 399.90,55.40 C401.63,57.66 403.54,60.98 405.10,63.75 C406.66,66.52 407.87,69.22 409.25,72.00 C410.63,74.78 412.19,77.61 413.40,80.40 C414.61,83.19 415.45,86.62 416.50,88.75 C417.55,90.88 418.62,92.42 419.70,93.20 C420.78,93.98 421.98,93.53 423.00,93.40 C424.02,93.27 424.87,93.00 425.80,92.40 C426.73,91.80 427.65,91.28 428.60,89.80 C429.55,88.32 430.50,86.28 431.50,83.50 C432.50,80.72 433.57,76.73 434.60,73.10 C435.63,69.47 436.67,65.52 437.70,61.70 C438.73,57.88 439.75,54.15 440.80,50.20 C441.85,46.25 442.87,41.78 444.00,38.00 C445.13,34.22 446.39,29.90 447.60,27.50 C448.81,25.10 450.12,24.15 451.25,23.60 C452.38,23.05 453.62,23.72 454.40,24.20 C455.17,24.68 455.22,25.03 455.90,26.50 C456.58,27.97 457.53,30.62 458.50,33.00 C459.47,35.38 460.65,38.28 461.70,40.80 C462.75,43.32 463.77,45.48 464.80,48.10 C465.83,50.72 466.87,52.85 467.90,56.50 C468.93,60.15 469.95,66.02 471.00,70.00 C472.05,73.98 473.15,77.53 474.20,80.40 C475.25,83.27 476.43,86.50 477.30,87.20 C478.17,87.90 478.70,86.25 479.40,84.60 C480.10,82.95 480.82,79.73 481.50,77.30 C482.18,74.87 482.75,73.22 483.50,70.00 C484.25,66.78 485.18,62.08 486.00,58.00 C486.82,53.92 488.00,47.58 488.40,45.50" fill="none" stroke="#7e7e7e" stroke-width="0.55"/>
<path d="M355.90,94.20 C356.25,92.67 357.18,88.20 358.00,85.00 C358.82,81.80 359.90,77.50 360.80,75.00 C361.70,72.50 362.45,71.53 363.40,70.00 C364.35,68.47 365.11,67.18 366.50,65.80 C367.89,64.42 370.00,62.57 371.75,61.70 C373.50,60.83 375.09,60.60 377.00,60.60 C378.91,60.60 381.12,61.00 383.20,61.70 C385.28,62.40 387.58,63.42 389.50,64.80 C391.42,66.18 392.97,68.27 394.70,70.00 C396.43,71.73 398.17,73.12 399.90,75.20 C401.63,77.28 403.54,79.90 405.10,82.50 C406.66,85.10 407.95,88.20 409.25,90.80 C410.55,93.40 411.86,96.18 412.90,98.10 C413.94,100.02 414.37,101.00 415.50,102.30 C416.63,103.60 418.43,104.77 419.70,105.90 C420.97,107.03 422.10,108.18 423.10,109.10 C424.10,110.02 424.73,111.32 425.70,111.40 C426.67,111.48 427.93,110.95 428.90,109.60 C429.87,108.25 430.55,106.08 431.50,103.30 C432.45,100.52 433.57,96.20 434.60,92.90 C435.63,89.60 436.67,86.80 437.70,83.50 C438.73,80.20 439.58,76.73 440.80,73.10 C442.02,69.47 443.43,64.38 445.00,61.70 C446.57,59.02 448.47,57.35 450.20,57.00 C451.93,56.65 453.67,57.93 455.40,59.60 C457.13,61.27 458.87,63.02 460.60,67.00 C462.33,70.98 464.07,78.48 465.80,83.50 C467.53,88.52 469.43,93.97 471.00,97.10 C472.57,100.23 473.98,100.77 475.20,102.30 C476.42,103.83 477.08,106.13 478.30,106.30 C479.52,106.47 481.28,105.88 482.50,103.30 C483.72,100.72 484.62,94.43 485.60,90.80 C486.58,87.17 487.93,83.05 488.40,81.50" fill="none" stroke="#7e7e7e" stroke-width="0.55"/>
<line x1="488.40" y1="45.50" x2="488.40" y2="81.50" stroke="#7e7e7e" stroke-width="0.55"/>
<line x1="355.90" y1="66.70" x2="355.90" y2="94.20" stroke="#7e7e7e" stroke-width="0.55"/>
<line x1="355.80" y1="23.50" x2="355.80" y2="121.10" stroke="#bdbdbd" stroke-width="0.9"/>
<line x1="355.80" y1="121.10" x2="488.40" y2="121.10" stroke="#bdbdbd" stroke-width="0.9"/>
<line x1="355.80" y1="24.50" x2="357.60" y2="24.50" stroke="#bdbdbd" stroke-width="0.7"/>
<text x="0" y="0" font-size="10.0" text-anchor="end" fill="#333" transform="translate(351.20,28.00) scale(0.92,1)">60</text>
<line x1="355.80" y1="48.40" x2="357.60" y2="48.40" stroke="#bdbdbd" stroke-width="0.7"/>
<text x="0" y="0" font-size="10.0" text-anchor="end" fill="#333" transform="translate(351.20,51.90) scale(0.92,1)">50</text>
<line x1="355.80" y1="72.60" x2="357.60" y2="72.60" stroke="#bdbdbd" stroke-width="0.7"/>
<text x="0" y="0" font-size="10.0" text-anchor="end" fill="#333" transform="translate(351.20,76.10) scale(0.92,1)">40</text>
<line x1="355.80" y1="96.80" x2="357.60" y2="96.80" stroke="#bdbdbd" stroke-width="0.7"/>
<text x="0" y="0" font-size="10.0" text-anchor="end" fill="#333" transform="translate(351.20,100.30) scale(0.92,1)">30</text>
<line x1="355.80" y1="121.10" x2="357.60" y2="121.10" stroke="#bdbdbd" stroke-width="0.7"/>
<text x="0" y="0" font-size="10.0" text-anchor="end" fill="#333" transform="translate(351.20,124.60) scale(0.92,1)">20</text>
<line x1="380.60" y1="121.10" x2="380.60" y2="119.30" stroke="#bdbdbd" stroke-width="0.7"/>
<text x="0" y="0" font-size="10.0" text-anchor="middle" fill="#333" transform="translate(380.60,133.00) scale(0.92,1)">20</text>
<line x1="407.40" y1="121.10" x2="407.40" y2="119.30" stroke="#bdbdbd" stroke-width="0.7"/>
<text x="0" y="0" font-size="10.0" text-anchor="middle" fill="#333" transform="translate(407.40,133.00) scale(0.92,1)">40</text>
<line x1="434.50" y1="121.10" x2="434.50" y2="119.30" stroke="#bdbdbd" stroke-width="0.7"/>
<text x="0" y="0" font-size="10.0" text-anchor="middle" fill="#333" transform="translate(434.50,133.00) scale(0.92,1)">60</text>
<line x1="461.40" y1="121.10" x2="461.40" y2="119.30" stroke="#bdbdbd" stroke-width="0.7"/>
<text x="0" y="0" font-size="10.0" text-anchor="middle" fill="#333" transform="translate(461.40,133.00) scale(0.92,1)">80</text>
<line x1="488.30" y1="121.10" x2="488.30" y2="119.30" stroke="#bdbdbd" stroke-width="0.7"/>
<text x="0" y="0" font-size="10.0" text-anchor="middle" fill="#333" transform="translate(488.30,133.00) scale(0.92,1)">100</text>
<path d="M355.90,75.70 C356.72,75.83 359.20,75.88 360.80,76.50 C362.40,77.12 363.85,78.05 365.50,79.40 C367.15,80.75 369.05,82.78 370.70,84.60 C372.35,86.42 373.67,88.57 375.40,90.30 C377.13,92.03 379.10,93.35 381.10,95.00 C383.10,96.65 385.48,98.85 387.40,100.20 C389.32,101.55 390.70,102.48 392.60,103.10 C394.50,103.72 396.90,104.00 398.80,103.90 C400.70,103.80 402.26,103.20 404.00,102.50 C405.74,101.80 407.50,100.17 409.25,99.70 C411.00,99.23 413.24,99.48 414.50,99.70 C415.76,99.92 416.08,100.40 416.80,101.00 C417.52,101.60 417.83,102.88 418.80,103.30 C419.77,103.72 421.36,104.37 422.60,103.50 C423.84,102.63 424.95,100.03 426.25,98.10 C427.55,96.17 429.01,94.07 430.40,91.90 C431.79,89.73 433.38,87.37 434.60,85.10 C435.82,82.83 436.67,80.82 437.70,78.30 C438.73,75.78 439.42,75.03 440.80,70.00 C442.18,64.97 444.43,54.18 446.00,48.10 C447.57,42.02 449.15,36.62 450.20,33.50 C451.25,30.38 451.43,30.47 452.30,29.40 C453.17,28.33 454.37,26.58 455.40,27.10 C456.43,27.62 457.45,30.38 458.50,32.50 C459.55,34.62 460.65,37.20 461.70,39.80 C462.75,42.40 463.77,45.50 464.80,48.10 C465.83,50.70 466.68,53.32 467.90,55.40 C469.12,57.48 470.53,58.87 472.10,60.60 C473.67,62.33 475.57,64.07 477.30,65.80 C479.03,67.53 480.93,69.60 482.50,71.00 C484.07,72.40 485.72,73.58 486.70,74.20 C487.68,74.82 488.12,74.62 488.40,74.70" fill="none" stroke="#f42828" stroke-width="1.25" stroke-linejoin="round" stroke-linecap="round"/>
<text x="0" y="0" font-size="10.6" text-anchor="middle" fill="#2e2e2e" transform="translate(328.50,72.50) rotate(-90)"><tspan font-style="italic">q</tspan><tspan font-size="7" dy="2.2">1</tspan><tspan dy="-2.2"> (degrees)</tspan></text>
<rect x="359.3" y="27.1" width="88" height="20.4" fill="#fff" stroke="#d0d0d0" stroke-width="0.7"/>
<rect x="360.3" y="29.3" width="13.2" height="7.2" fill="#e4e4e4" stroke="#9a9a9a" stroke-width="0.5"/>
<line x1="360.5" y1="42.2" x2="373.5" y2="42.2" stroke="#f42828" stroke-width="1.2"/>
<text x="377.80" y="35.20" font-size="7.1" text-anchor="start" fill="#2e2e2e" font-weight="normal" >Animal joint evolution</text>
<text x="377.80" y="44.70" font-size="7.1" text-anchor="start" fill="#2e2e2e" font-weight="normal" >IK on robot</text>
<path d="M545.50,73.50 C545.78,74.58 546.62,77.63 547.20,80.00 C547.78,82.37 548.02,85.90 549.00,87.70 C549.98,89.50 551.98,90.18 553.10,90.80 C554.22,91.42 554.73,90.83 555.70,91.40 C556.67,91.97 558.03,93.92 558.90,94.20 C559.77,94.48 559.67,93.30 560.90,93.10 C562.12,92.90 564.92,93.27 566.25,93.00 C567.58,92.73 567.59,93.15 568.90,91.50 C570.21,89.85 572.12,85.28 574.10,83.10 C576.08,80.92 578.28,79.87 580.80,78.40 C583.32,76.93 586.58,75.17 589.20,74.30 C591.82,73.43 594.25,73.50 596.50,73.20 C598.75,72.90 600.10,72.50 602.70,72.50 C605.30,72.50 608.80,72.99 612.10,73.20 C615.40,73.41 619.77,73.45 622.50,73.75 C625.23,74.05 626.62,74.41 628.50,75.00 C630.38,75.59 631.83,76.05 633.75,77.30 C635.67,78.55 638.26,80.59 640.00,82.50 C641.74,84.41 642.98,86.58 644.20,88.75 C645.42,90.92 646.33,95.46 647.30,95.50 C648.27,95.54 649.13,91.75 650.00,89.00 C650.87,86.25 651.75,82.33 652.50,79.00 C653.25,75.67 653.80,72.38 654.50,69.00 C655.20,65.62 655.82,62.54 656.70,58.75 C657.58,54.96 658.77,49.54 659.80,46.25 C660.83,42.96 661.87,40.52 662.90,39.00 C663.93,37.48 664.95,37.20 666.00,37.10 C667.05,37.00 668.15,37.05 669.20,38.40 C670.25,39.75 671.35,43.02 672.30,45.20 C673.25,47.38 674.38,49.93 674.90,51.50 C675.42,53.07 675.32,54.08 675.40,54.60 L675.20,102.80 C674.72,100.98 673.30,95.12 672.30,91.90 C671.30,88.68 670.25,85.93 669.20,83.50 C668.15,81.07 667.13,78.72 666.00,77.30 C664.87,75.88 663.61,75.17 662.40,75.00 C661.19,74.83 659.88,75.35 658.75,76.25 C657.62,77.15 656.64,78.32 655.60,80.40 C654.56,82.48 653.53,85.62 652.50,88.75 C651.47,91.88 650.44,95.73 649.40,99.20 C648.36,102.67 647.22,106.40 646.25,109.60 C645.28,112.80 644.48,117.37 643.60,118.40 C642.73,119.43 642.30,117.27 641.00,115.80 C639.70,114.33 637.70,111.50 635.80,109.60 C633.90,107.70 631.12,105.52 629.60,104.40 C628.08,103.28 628.09,103.43 626.70,102.90 C625.31,102.38 622.82,101.60 621.25,101.25 C619.68,100.90 619.69,100.96 617.30,100.80 C614.91,100.64 610.37,100.20 606.90,100.30 C603.43,100.40 599.38,100.90 596.50,101.40 C593.62,101.90 591.80,102.72 589.60,103.30 C587.40,103.88 585.22,104.20 583.30,104.90 C581.38,105.60 579.65,106.37 578.10,107.50 C576.55,108.63 575.38,110.40 574.00,111.70 C572.62,113.00 571.37,114.87 569.80,115.30 C568.23,115.73 565.98,114.22 564.60,114.30 C563.22,114.38 562.89,115.89 561.50,115.80 C560.11,115.71 557.82,114.78 556.25,113.75 C554.68,112.72 553.31,111.86 552.10,109.60 C550.89,107.34 550.10,103.67 549.00,100.20 C547.90,96.73 546.08,90.70 545.50,88.80 Z" fill="#e4e4e4" stroke="none"/>
<path d="M545.50,73.50 C545.78,74.58 546.62,77.63 547.20,80.00 C547.78,82.37 548.02,85.90 549.00,87.70 C549.98,89.50 551.98,90.18 553.10,90.80 C554.22,91.42 554.73,90.83 555.70,91.40 C556.67,91.97 558.03,93.92 558.90,94.20 C559.77,94.48 559.67,93.30 560.90,93.10 C562.12,92.90 564.92,93.27 566.25,93.00 C567.58,92.73 567.59,93.15 568.90,91.50 C570.21,89.85 572.12,85.28 574.10,83.10 C576.08,80.92 578.28,79.87 580.80,78.40 C583.32,76.93 586.58,75.17 589.20,74.30 C591.82,73.43 594.25,73.50 596.50,73.20 C598.75,72.90 600.10,72.50 602.70,72.50 C605.30,72.50 608.80,72.99 612.10,73.20 C615.40,73.41 619.77,73.45 622.50,73.75 C625.23,74.05 626.62,74.41 628.50,75.00 C630.38,75.59 631.83,76.05 633.75,77.30 C635.67,78.55 638.26,80.59 640.00,82.50 C641.74,84.41 642.98,86.58 644.20,88.75 C645.42,90.92 646.33,95.46 647.30,95.50 C648.27,95.54 649.13,91.75 650.00,89.00 C650.87,86.25 651.75,82.33 652.50,79.00 C653.25,75.67 653.80,72.38 654.50,69.00 C655.20,65.62 655.82,62.54 656.70,58.75 C657.58,54.96 658.77,49.54 659.80,46.25 C660.83,42.96 661.87,40.52 662.90,39.00 C663.93,37.48 664.95,37.20 666.00,37.10 C667.05,37.00 668.15,37.05 669.20,38.40 C670.25,39.75 671.35,43.02 672.30,45.20 C673.25,47.38 674.38,49.93 674.90,51.50 C675.42,53.07 675.32,54.08 675.40,54.60" fill="none" stroke="#7e7e7e" stroke-width="0.55"/>
<path d="M545.50,88.80 C546.08,90.70 547.90,96.73 549.00,100.20 C550.10,103.67 550.89,107.34 552.10,109.60 C553.31,111.86 554.68,112.72 556.25,113.75 C557.82,114.78 560.11,115.71 561.50,115.80 C562.89,115.89 563.22,114.38 564.60,114.30 C565.98,114.22 568.23,115.73 569.80,115.30 C571.37,114.87 572.62,113.00 574.00,111.70 C575.38,110.40 576.55,108.63 578.10,107.50 C579.65,106.37 581.38,105.60 583.30,104.90 C585.22,104.20 587.40,103.88 589.60,103.30 C591.80,102.72 593.62,101.90 596.50,101.40 C599.38,100.90 603.43,100.40 606.90,100.30 C610.37,100.20 614.91,100.64 617.30,100.80 C619.69,100.96 619.68,100.90 621.25,101.25 C622.82,101.60 625.31,102.38 626.70,102.90 C628.09,103.43 628.08,103.28 629.60,104.40 C631.12,105.52 633.90,107.70 635.80,109.60 C637.70,111.50 639.70,114.33 641.00,115.80 C642.30,117.27 642.73,119.43 643.60,118.40 C644.48,117.37 645.28,112.80 646.25,109.60 C647.22,106.40 648.36,102.67 649.40,99.20 C650.44,95.73 651.47,91.88 652.50,88.75 C653.53,85.62 654.56,82.48 655.60,80.40 C656.64,78.32 657.62,77.15 658.75,76.25 C659.88,75.35 661.19,74.83 662.40,75.00 C663.61,75.17 664.87,75.88 666.00,77.30 C667.13,78.72 668.15,81.07 669.20,83.50 C670.25,85.93 671.30,88.68 672.30,91.90 C673.30,95.12 674.72,100.98 675.20,102.80" fill="none" stroke="#7e7e7e" stroke-width="0.55"/>
<line x1="675.40" y1="54.60" x2="675.20" y2="102.80" stroke="#7e7e7e" stroke-width="0.55"/>
<line x1="545.50" y1="73.50" x2="545.50" y2="88.80" stroke="#7e7e7e" stroke-width="0.55"/>
<line x1="545.50" y1="23.10" x2="545.50" y2="121.25" stroke="#bdbdbd" stroke-width="0.9"/>
<line x1="545.50" y1="121.25" x2="675.40" y2="121.25" stroke="#bdbdbd" stroke-width="0.9"/>
<line x1="545.50" y1="23.50" x2="547.30" y2="23.50" stroke="#bdbdbd" stroke-width="0.7"/>
<text x="0" y="0" font-size="10.0" text-anchor="end" fill="#333" transform="translate(540.90,27.00) scale(0.92,1)">80</text>
<line x1="545.50" y1="43.00" x2="547.30" y2="43.00" stroke="#bdbdbd" stroke-width="0.7"/>
<text x="0" y="0" font-size="10.0" text-anchor="end" fill="#333" transform="translate(540.90,46.50) scale(0.92,1)">60</text>
<line x1="545.50" y1="62.60" x2="547.30" y2="62.60" stroke="#bdbdbd" stroke-width="0.7"/>
<text x="0" y="0" font-size="10.0" text-anchor="end" fill="#333" transform="translate(540.90,66.10) scale(0.92,1)">40</text>
<line x1="545.50" y1="82.20" x2="547.30" y2="82.20" stroke="#bdbdbd" stroke-width="0.7"/>
<text x="0" y="0" font-size="10.0" text-anchor="end" fill="#333" transform="translate(540.90,85.70) scale(0.92,1)">20</text>
<line x1="545.50" y1="101.70" x2="547.30" y2="101.70" stroke="#bdbdbd" stroke-width="0.7"/>
<text x="0" y="0" font-size="10.0" text-anchor="end" fill="#333" transform="translate(540.90,105.20) scale(0.92,1)">0</text>
<line x1="545.50" y1="121.25" x2="547.30" y2="121.25" stroke="#bdbdbd" stroke-width="0.7"/>
<text x="0" y="0" font-size="10.0" text-anchor="end" fill="#333" transform="translate(540.90,124.75) scale(0.92,1)">-20</text>
<line x1="569.30" y1="121.25" x2="569.30" y2="119.45" stroke="#bdbdbd" stroke-width="0.7"/>
<text x="0" y="0" font-size="10.0" text-anchor="middle" fill="#333" transform="translate(569.30,133.15) scale(0.92,1)">20</text>
<line x1="595.70" y1="121.25" x2="595.70" y2="119.45" stroke="#bdbdbd" stroke-width="0.7"/>
<text x="0" y="0" font-size="10.0" text-anchor="middle" fill="#333" transform="translate(595.70,133.15) scale(0.92,1)">40</text>
<line x1="622.10" y1="121.25" x2="622.10" y2="119.45" stroke="#bdbdbd" stroke-width="0.7"/>
<text x="0" y="0" font-size="10.0" text-anchor="middle" fill="#333" transform="translate(622.10,133.15) scale(0.92,1)">60</text>
<line x1="648.50" y1="121.25" x2="648.50" y2="119.45" stroke="#bdbdbd" stroke-width="0.7"/>
<text x="0" y="0" font-size="10.0" text-anchor="middle" fill="#333" transform="translate(648.50,133.15) scale(0.92,1)">80</text>
<line x1="675.20" y1="121.25" x2="675.20" y2="119.45" stroke="#bdbdbd" stroke-width="0.7"/>
<text x="0" y="0" font-size="10.0" text-anchor="middle" fill="#333" transform="translate(675.20,133.15) scale(0.92,1)">100</text>
<path d="M545.50,63.10 C546.25,64.25 548.21,67.47 550.00,70.00 C551.79,72.53 554.58,75.93 556.25,78.30 C557.92,80.67 558.67,82.35 560.00,84.20 C561.33,86.05 562.82,87.75 564.20,89.40 C565.58,91.05 566.57,92.80 568.30,94.10 C570.03,95.40 573.12,96.77 574.60,97.20 C576.08,97.63 576.17,97.48 577.20,96.70 C578.23,95.92 579.33,93.98 580.80,92.50 C582.27,91.02 584.52,88.75 586.00,87.80 C587.48,86.85 588.30,86.72 589.70,86.80 C591.10,86.88 592.75,87.43 594.40,88.30 C596.05,89.17 597.87,90.52 599.60,92.00 C601.33,93.48 602.93,95.13 604.80,97.20 C606.67,99.27 608.75,101.98 610.80,104.40 C612.85,106.82 615.36,109.80 617.10,111.70 C618.84,113.60 620.03,114.85 621.25,115.80 C622.47,116.75 623.19,117.65 624.40,117.40 C625.61,117.15 626.94,115.35 628.50,114.30 C630.06,113.25 632.00,112.07 633.75,111.10 C635.50,110.13 637.61,109.62 639.00,108.50 C640.39,107.38 640.89,106.13 642.10,104.40 C643.31,102.67 644.95,100.18 646.25,98.10 C647.55,96.02 648.86,94.50 649.90,91.90 C650.94,89.30 651.55,85.45 652.50,82.50 C653.45,79.55 654.77,76.62 655.60,74.20 C656.43,71.78 656.80,69.80 657.50,68.00 C658.20,66.20 658.55,64.22 659.80,63.40 C661.05,62.58 663.27,63.10 665.00,63.10 C666.73,63.10 668.47,62.73 670.20,63.40 C671.93,64.07 674.53,66.48 675.40,67.10" fill="none" stroke="#f42828" stroke-width="1.25" stroke-linejoin="round" stroke-linecap="round"/>
<text x="0" y="0" font-size="10.6" text-anchor="middle" fill="#2e2e2e" transform="translate(518.40,72.50) rotate(-90)"><tspan font-style="italic">q</tspan><tspan font-size="7" dy="2.2">6</tspan><tspan dy="-2.2"> (degrees)</tspan></text>
<path d="M356.30,201.80 C357.05,201.67 359.18,201.09 360.80,201.00 C362.42,200.91 364.26,201.21 366.00,201.25 C367.74,201.29 369.50,201.51 371.25,201.25 C373.00,200.99 374.76,200.22 376.50,199.70 C378.24,199.17 379.97,198.67 381.70,198.10 C383.43,197.53 385.35,196.63 386.90,196.25 C388.45,195.87 389.78,195.66 391.00,195.80 C392.22,195.94 392.98,196.37 394.20,197.10 C395.42,197.83 396.92,198.82 398.30,200.20 C399.68,201.58 401.28,203.97 402.50,205.40 C403.72,206.83 404.48,207.85 405.60,208.80 C406.72,209.75 407.92,211.48 409.20,211.10 C410.48,210.72 411.75,208.32 413.30,206.50 C414.85,204.68 416.93,203.65 418.50,200.20 C420.07,196.75 421.30,190.10 422.70,185.80 C424.10,181.50 425.52,178.38 426.90,174.40 C428.28,170.42 429.70,165.38 431.00,161.90 C432.30,158.42 433.57,155.50 434.70,153.50 C435.83,151.50 436.77,150.62 437.80,149.90 C438.83,149.18 439.85,148.93 440.90,149.20 C441.95,149.47 443.13,150.25 444.10,151.50 C445.07,152.75 445.75,154.45 446.70,156.70 C447.65,158.95 448.77,162.05 449.80,165.00 C450.83,167.95 451.77,170.73 452.90,174.40 C454.03,178.07 455.38,181.83 456.60,187.00 C457.82,192.17 458.90,200.07 460.20,205.40 C461.50,210.73 463.18,215.18 464.40,219.00 C465.62,222.82 466.70,226.18 467.50,228.30 C468.30,230.42 468.48,231.47 469.20,231.70 C469.92,231.93 470.70,231.68 471.80,229.70 C472.90,227.72 474.47,223.33 475.80,219.80 C477.13,216.27 478.37,211.60 479.80,208.50 C481.23,205.40 483.63,202.42 484.40,201.20 L484.40,215.80 C483.63,217.12 481.23,220.83 479.80,223.70 C478.37,226.57 477.13,229.30 475.80,233.00 C474.47,236.70 472.92,244.42 471.80,245.90 C470.68,247.38 470.17,243.97 469.10,241.90 C468.03,239.83 466.71,236.98 465.40,233.50 C464.09,230.02 462.63,225.33 461.25,221.00 C459.87,216.67 458.41,212.67 457.10,207.50 C455.79,202.33 454.45,194.30 453.40,190.00 C452.35,185.70 451.75,184.05 450.80,181.70 C449.85,179.35 448.82,177.64 447.70,175.90 C446.58,174.16 445.23,172.28 444.10,171.25 C442.97,170.22 441.95,169.79 440.90,169.70 C439.85,169.61 438.92,169.75 437.80,170.70 C436.68,171.65 435.50,173.05 434.20,175.40 C432.90,177.75 431.40,181.53 430.00,184.80 C428.60,188.07 427.18,191.92 425.80,195.00 C424.42,198.08 423.08,200.52 421.70,203.30 C420.32,206.08 418.90,209.00 417.50,211.70 C416.10,214.40 414.68,217.52 413.30,219.50 C411.92,221.48 410.30,223.17 409.20,223.60 C408.10,224.03 407.82,223.05 406.70,222.10 C405.58,221.15 404.07,219.63 402.50,217.90 C400.93,216.17 399.03,213.00 397.30,211.70 C395.57,210.40 393.83,210.28 392.10,210.10 C390.37,209.92 388.63,210.60 386.90,210.60 C385.17,210.60 383.43,210.27 381.70,210.10 C379.97,209.93 378.24,209.77 376.50,209.60 C374.76,209.43 373.00,208.75 371.25,209.10 C369.50,209.45 367.74,210.83 366.00,211.70 C364.26,212.57 362.42,213.08 360.80,214.30 C359.18,215.52 357.05,218.22 356.30,219.00 Z" fill="#e4e4e4" stroke="none"/>
<path d="M356.30,201.80 C357.05,201.67 359.18,201.09 360.80,201.00 C362.42,200.91 364.26,201.21 366.00,201.25 C367.74,201.29 369.50,201.51 371.25,201.25 C373.00,200.99 374.76,200.22 376.50,199.70 C378.24,199.17 379.97,198.67 381.70,198.10 C383.43,197.53 385.35,196.63 386.90,196.25 C388.45,195.87 389.78,195.66 391.00,195.80 C392.22,195.94 392.98,196.37 394.20,197.10 C395.42,197.83 396.92,198.82 398.30,200.20 C399.68,201.58 401.28,203.97 402.50,205.40 C403.72,206.83 404.48,207.85 405.60,208.80 C406.72,209.75 407.92,211.48 409.20,211.10 C410.48,210.72 411.75,208.32 413.30,206.50 C414.85,204.68 416.93,203.65 418.50,200.20 C420.07,196.75 421.30,190.10 422.70,185.80 C424.10,181.50 425.52,178.38 426.90,174.40 C428.28,170.42 429.70,165.38 431.00,161.90 C432.30,158.42 433.57,155.50 434.70,153.50 C435.83,151.50 436.77,150.62 437.80,149.90 C438.83,149.18 439.85,148.93 440.90,149.20 C441.95,149.47 443.13,150.25 444.10,151.50 C445.07,152.75 445.75,154.45 446.70,156.70 C447.65,158.95 448.77,162.05 449.80,165.00 C450.83,167.95 451.77,170.73 452.90,174.40 C454.03,178.07 455.38,181.83 456.60,187.00 C457.82,192.17 458.90,200.07 460.20,205.40 C461.50,210.73 463.18,215.18 464.40,219.00 C465.62,222.82 466.70,226.18 467.50,228.30 C468.30,230.42 468.48,231.47 469.20,231.70 C469.92,231.93 470.70,231.68 471.80,229.70 C472.90,227.72 474.47,223.33 475.80,219.80 C477.13,216.27 478.37,211.60 479.80,208.50 C481.23,205.40 483.63,202.42 484.40,201.20" fill="none" stroke="#7e7e7e" stroke-width="0.55"/>
<path d="M356.30,219.00 C357.05,218.22 359.18,215.52 360.80,214.30 C362.42,213.08 364.26,212.57 366.00,211.70 C367.74,210.83 369.50,209.45 371.25,209.10 C373.00,208.75 374.76,209.43 376.50,209.60 C378.24,209.77 379.97,209.93 381.70,210.10 C383.43,210.27 385.17,210.60 386.90,210.60 C388.63,210.60 390.37,209.92 392.10,210.10 C393.83,210.28 395.57,210.40 397.30,211.70 C399.03,213.00 400.93,216.17 402.50,217.90 C404.07,219.63 405.58,221.15 406.70,222.10 C407.82,223.05 408.10,224.03 409.20,223.60 C410.30,223.17 411.92,221.48 413.30,219.50 C414.68,217.52 416.10,214.40 417.50,211.70 C418.90,209.00 420.32,206.08 421.70,203.30 C423.08,200.52 424.42,198.08 425.80,195.00 C427.18,191.92 428.60,188.07 430.00,184.80 C431.40,181.53 432.90,177.75 434.20,175.40 C435.50,173.05 436.68,171.65 437.80,170.70 C438.92,169.75 439.85,169.61 440.90,169.70 C441.95,169.79 442.97,170.22 444.10,171.25 C445.23,172.28 446.58,174.16 447.70,175.90 C448.82,177.64 449.85,179.35 450.80,181.70 C451.75,184.05 452.35,185.70 453.40,190.00 C454.45,194.30 455.79,202.33 457.10,207.50 C458.41,212.67 459.87,216.67 461.25,221.00 C462.63,225.33 464.09,230.02 465.40,233.50 C466.71,236.98 468.03,239.83 469.10,241.90 C470.17,243.97 470.68,247.38 471.80,245.90 C472.92,244.42 474.47,236.70 475.80,233.00 C477.13,229.30 478.37,226.57 479.80,223.70 C481.23,220.83 483.63,217.12 484.40,215.80" fill="none" stroke="#7e7e7e" stroke-width="0.55"/>
<line x1="484.40" y1="201.20" x2="484.40" y2="215.80" stroke="#7e7e7e" stroke-width="0.55"/>
<line x1="356.30" y1="201.80" x2="356.30" y2="219.00" stroke="#7e7e7e" stroke-width="0.55"/>
<line x1="356.10" y1="149.40" x2="356.10" y2="246.10" stroke="#bdbdbd" stroke-width="0.9"/>
<line x1="356.10" y1="246.10" x2="484.60" y2="246.10" stroke="#bdbdbd" stroke-width="0.9"/>
<line x1="356.10" y1="150.40" x2="357.90" y2="150.40" stroke="#bdbdbd" stroke-width="0.7"/>
<text x="0" y="0" font-size="10.0" text-anchor="end" fill="#333" transform="translate(351.50,153.90) scale(0.92,1)">100</text>
<line x1="356.10" y1="174.40" x2="357.90" y2="174.40" stroke="#bdbdbd" stroke-width="0.7"/>
<text x="0" y="0" font-size="10.0" text-anchor="end" fill="#333" transform="translate(351.50,177.90) scale(0.92,1)">90</text>
<line x1="356.10" y1="198.50" x2="357.90" y2="198.50" stroke="#bdbdbd" stroke-width="0.7"/>
<text x="0" y="0" font-size="10.0" text-anchor="end" fill="#333" transform="translate(351.50,202.00) scale(0.92,1)">80</text>
<line x1="356.10" y1="222.60" x2="357.90" y2="222.60" stroke="#bdbdbd" stroke-width="0.7"/>
<text x="0" y="0" font-size="10.0" text-anchor="end" fill="#333" transform="translate(351.50,226.10) scale(0.92,1)">70</text>
<line x1="356.10" y1="246.10" x2="357.90" y2="246.10" stroke="#bdbdbd" stroke-width="0.7"/>
<text x="0" y="0" font-size="10.0" text-anchor="end" fill="#333" transform="translate(351.50,249.60) scale(0.92,1)">60</text>
<line x1="379.30" y1="246.10" x2="379.30" y2="244.30" stroke="#bdbdbd" stroke-width="0.7"/>
<text x="0" y="0" font-size="10.0" text-anchor="middle" fill="#333" transform="translate(379.30,258.00) scale(0.92,1)">20</text>
<line x1="405.70" y1="246.10" x2="405.70" y2="244.30" stroke="#bdbdbd" stroke-width="0.7"/>
<text x="0" y="0" font-size="10.0" text-anchor="middle" fill="#333" transform="translate(405.70,258.00) scale(0.92,1)">40</text>
<line x1="432.20" y1="246.10" x2="432.20" y2="244.30" stroke="#bdbdbd" stroke-width="0.7"/>
<text x="0" y="0" font-size="10.0" text-anchor="middle" fill="#333" transform="translate(432.20,258.00) scale(0.92,1)">60</text>
<line x1="458.50" y1="246.10" x2="458.50" y2="244.30" stroke="#bdbdbd" stroke-width="0.7"/>
<text x="0" y="0" font-size="10.0" text-anchor="middle" fill="#333" transform="translate(458.50,258.00) scale(0.92,1)">80</text>
<line x1="484.80" y1="246.10" x2="484.80" y2="244.30" stroke="#bdbdbd" stroke-width="0.7"/>
<text x="0" y="0" font-size="10.0" text-anchor="middle" fill="#333" transform="translate(484.80,258.00) scale(0.92,1)">100</text>
<path d="M356.30,199.20 C357.05,199.05 359.35,198.30 360.80,198.30 C362.25,198.30 363.43,198.71 365.00,199.20 C366.57,199.69 368.47,200.57 370.20,201.25 C371.93,201.93 373.67,202.53 375.40,203.30 C377.13,204.08 378.87,205.20 380.60,205.90 C382.33,206.60 384.07,207.03 385.80,207.50 C387.53,207.97 389.08,208.27 391.00,208.75 C392.92,209.23 395.73,209.74 397.30,210.40 C398.87,211.06 399.18,211.27 400.40,212.70 C401.62,214.13 403.21,216.74 404.60,219.00 C405.99,221.26 407.47,224.00 408.75,226.25 C410.03,228.50 411.19,230.59 412.30,232.50 C413.41,234.41 414.37,237.78 415.40,237.70 C416.43,237.62 417.45,235.47 418.50,232.00 C419.55,228.53 420.73,221.68 421.70,216.90 C422.67,212.12 423.27,209.17 424.30,203.30 C425.33,197.43 426.78,187.73 427.90,181.70 C429.02,175.67 429.95,171.10 431.00,167.10 C432.05,163.10 433.15,160.05 434.20,157.70 C435.25,155.35 436.27,153.90 437.30,153.00 C438.33,152.10 439.37,152.03 440.40,152.30 C441.43,152.57 442.45,153.35 443.50,154.60 C444.55,155.85 445.48,157.37 446.70,159.80 C447.92,162.23 449.42,165.90 450.80,169.20 C452.18,172.50 453.78,176.70 455.00,179.60 C456.22,182.50 457.02,184.47 458.10,186.60 C459.18,188.73 460.10,190.73 461.50,192.40 C462.90,194.07 464.57,195.62 466.50,196.60 C468.43,197.58 470.88,197.93 473.10,198.30 C475.32,198.67 477.92,198.50 479.80,198.80 C481.68,199.10 483.63,199.88 484.40,200.10" fill="none" stroke="#f42828" stroke-width="1.25" stroke-linejoin="round" stroke-linecap="round"/>
<text x="0" y="0" font-size="10.6" text-anchor="middle" fill="#2e2e2e" transform="translate(328.50,198.00) rotate(-90)"><tspan font-style="italic">q</tspan><tspan font-size="7" dy="2.2">2</tspan><tspan dy="-2.2"> (degrees)</tspan></text>
<path d="M545.40,197.40 C545.80,198.10 546.97,200.28 547.80,201.60 C548.63,202.92 549.45,205.30 550.40,205.30 C551.35,205.30 552.28,203.35 553.50,201.60 C554.72,199.85 556.30,196.88 557.70,194.80 C559.10,192.72 560.33,190.48 561.90,189.10 C563.47,187.72 565.37,186.68 567.10,186.50 C568.83,186.32 570.40,187.13 572.30,188.00 C574.20,188.87 576.59,190.22 578.50,191.70 C580.41,193.18 581.83,195.00 583.75,196.90 C585.67,198.80 587.92,201.02 590.00,203.10 C592.08,205.18 594.17,207.13 596.25,209.40 C598.33,211.67 600.71,214.63 602.50,216.70 C604.29,218.77 605.80,221.18 607.00,221.80 C608.20,222.42 608.67,221.62 609.70,220.40 C610.73,219.18 612.03,217.23 613.20,214.50 C614.37,211.77 615.63,207.58 616.70,204.00 C617.77,200.42 618.73,196.72 619.60,193.00 C620.47,189.28 621.00,185.85 621.90,181.70 C622.80,177.55 623.97,172.10 625.00,168.10 C626.03,164.10 626.88,160.30 628.10,157.70 C629.32,155.10 631.08,152.85 632.30,152.50 C633.52,152.15 634.37,153.52 635.40,155.60 C636.43,157.68 637.45,161.70 638.50,165.00 C639.55,168.30 640.65,172.28 641.70,175.40 C642.75,178.53 643.58,180.80 644.80,183.75 C646.02,186.70 647.72,190.56 649.00,193.10 C650.28,195.64 651.27,197.47 652.50,199.00 C653.73,200.53 654.97,202.63 656.40,202.30 C657.83,201.97 659.83,198.63 661.10,197.00 C662.37,195.37 663.07,194.02 664.00,192.50 C664.93,190.98 665.70,189.18 666.70,187.90 C667.70,186.62 668.83,185.37 670.00,184.80 C671.17,184.23 673.08,184.55 673.70,184.50 L673.70,204.50 C672.95,205.20 670.92,206.63 669.20,208.70 C667.48,210.77 665.15,214.95 663.40,216.90 C661.65,218.85 660.65,220.80 658.70,220.40 C656.75,220.00 654.03,216.90 651.70,214.50 C649.37,212.10 646.20,209.08 644.70,206.00 C643.20,202.92 643.38,198.67 642.70,196.00 C642.02,193.33 641.47,192.22 640.60,190.00 C639.73,187.78 638.53,184.35 637.50,182.70 C636.47,181.05 635.44,180.27 634.40,180.10 C633.36,179.93 632.30,180.57 631.25,181.70 C630.20,182.83 629.14,184.85 628.10,186.90 C627.06,188.95 626.12,191.53 625.00,194.00 C623.88,196.47 622.78,198.28 621.40,201.70 C620.02,205.12 618.27,210.22 616.70,214.50 C615.13,218.78 613.37,224.48 612.00,227.40 C610.63,230.32 609.92,232.40 608.50,232.00 C607.08,231.60 605.20,227.21 603.50,225.00 C601.80,222.79 600.20,220.83 598.30,218.75 C596.40,216.67 594.18,214.41 592.10,212.50 C590.02,210.59 587.72,208.68 585.80,207.30 C583.88,205.92 582.33,205.07 580.60,204.20 C578.87,203.33 576.96,202.28 575.40,202.10 C573.84,201.92 572.63,202.07 571.25,203.10 C569.87,204.13 568.49,206.57 567.10,208.30 C565.71,210.03 564.29,212.20 562.90,213.50 C561.51,214.80 559.97,215.92 558.75,216.10 C557.53,216.28 556.99,215.90 555.60,214.60 C554.21,213.30 552.10,210.73 550.40,208.30 C548.70,205.87 546.23,201.38 545.40,200.00 Z" fill="#e4e4e4" stroke="none"/>
<path d="M545.40,197.40 C545.80,198.10 546.97,200.28 547.80,201.60 C548.63,202.92 549.45,205.30 550.40,205.30 C551.35,205.30 552.28,203.35 553.50,201.60 C554.72,199.85 556.30,196.88 557.70,194.80 C559.10,192.72 560.33,190.48 561.90,189.10 C563.47,187.72 565.37,186.68 567.10,186.50 C568.83,186.32 570.40,187.13 572.30,188.00 C574.20,188.87 576.59,190.22 578.50,191.70 C580.41,193.18 581.83,195.00 583.75,196.90 C585.67,198.80 587.92,201.02 590.00,203.10 C592.08,205.18 594.17,207.13 596.25,209.40 C598.33,211.67 600.71,214.63 602.50,216.70 C604.29,218.77 605.80,221.18 607.00,221.80 C608.20,222.42 608.67,221.62 609.70,220.40 C610.73,219.18 612.03,217.23 613.20,214.50 C614.37,211.77 615.63,207.58 616.70,204.00 C617.77,200.42 618.73,196.72 619.60,193.00 C620.47,189.28 621.00,185.85 621.90,181.70 C622.80,177.55 623.97,172.10 625.00,168.10 C626.03,164.10 626.88,160.30 628.10,157.70 C629.32,155.10 631.08,152.85 632.30,152.50 C633.52,152.15 634.37,153.52 635.40,155.60 C636.43,157.68 637.45,161.70 638.50,165.00 C639.55,168.30 640.65,172.28 641.70,175.40 C642.75,178.53 643.58,180.80 644.80,183.75 C646.02,186.70 647.72,190.56 649.00,193.10 C650.28,195.64 651.27,197.47 652.50,199.00 C653.73,200.53 654.97,202.63 656.40,202.30 C657.83,201.97 659.83,198.63 661.10,197.00 C662.37,195.37 663.07,194.02 664.00,192.50 C664.93,190.98 665.70,189.18 666.70,187.90 C667.70,186.62 668.83,185.37 670.00,184.80 C671.17,184.23 673.08,184.55 673.70,184.50" fill="none" stroke="#7e7e7e" stroke-width="0.55"/>
<path d="M545.40,200.00 C546.23,201.38 548.70,205.87 550.40,208.30 C552.10,210.73 554.21,213.30 555.60,214.60 C556.99,215.90 557.53,216.28 558.75,216.10 C559.97,215.92 561.51,214.80 562.90,213.50 C564.29,212.20 565.71,210.03 567.10,208.30 C568.49,206.57 569.87,204.13 571.25,203.10 C572.63,202.07 573.84,201.92 575.40,202.10 C576.96,202.28 578.87,203.33 580.60,204.20 C582.33,205.07 583.88,205.92 585.80,207.30 C587.72,208.68 590.02,210.59 592.10,212.50 C594.18,214.41 596.40,216.67 598.30,218.75 C600.20,220.83 601.80,222.79 603.50,225.00 C605.20,227.21 607.08,231.60 608.50,232.00 C609.92,232.40 610.63,230.32 612.00,227.40 C613.37,224.48 615.13,218.78 616.70,214.50 C618.27,210.22 620.02,205.12 621.40,201.70 C622.78,198.28 623.88,196.47 625.00,194.00 C626.12,191.53 627.06,188.95 628.10,186.90 C629.14,184.85 630.20,182.83 631.25,181.70 C632.30,180.57 633.36,179.93 634.40,180.10 C635.44,180.27 636.47,181.05 637.50,182.70 C638.53,184.35 639.73,187.78 640.60,190.00 C641.47,192.22 642.02,193.33 642.70,196.00 C643.38,198.67 643.20,202.92 644.70,206.00 C646.20,209.08 649.37,212.10 651.70,214.50 C654.03,216.90 656.75,220.00 658.70,220.40 C660.65,220.80 661.65,218.85 663.40,216.90 C665.15,214.95 667.48,210.77 669.20,208.70 C670.92,206.63 672.95,205.20 673.70,204.50" fill="none" stroke="#7e7e7e" stroke-width="0.55"/>
<line x1="673.70" y1="184.50" x2="673.70" y2="204.50" stroke="#7e7e7e" stroke-width="0.55"/>
<line x1="545.40" y1="197.40" x2="545.40" y2="200.00" stroke="#7e7e7e" stroke-width="0.55"/>
<line x1="545.50" y1="148.90" x2="545.50" y2="246.40" stroke="#bdbdbd" stroke-width="0.9"/>
<line x1="545.50" y1="246.40" x2="673.70" y2="246.40" stroke="#bdbdbd" stroke-width="0.9"/>
<line x1="545.50" y1="148.90" x2="547.30" y2="148.90" stroke="#bdbdbd" stroke-width="0.7"/>
<text x="0" y="0" font-size="10.0" text-anchor="end" fill="#333" transform="translate(540.90,152.40) scale(0.92,1)">100</text>
<line x1="545.50" y1="173.30" x2="547.30" y2="173.30" stroke="#bdbdbd" stroke-width="0.7"/>
<text x="0" y="0" font-size="10.0" text-anchor="end" fill="#333" transform="translate(540.90,176.80) scale(0.92,1)">80</text>
<line x1="545.50" y1="197.70" x2="547.30" y2="197.70" stroke="#bdbdbd" stroke-width="0.7"/>
<text x="0" y="0" font-size="10.0" text-anchor="end" fill="#333" transform="translate(540.90,201.20) scale(0.92,1)">60</text>
<line x1="545.50" y1="222.00" x2="547.30" y2="222.00" stroke="#bdbdbd" stroke-width="0.7"/>
<text x="0" y="0" font-size="10.0" text-anchor="end" fill="#333" transform="translate(540.90,225.50) scale(0.92,1)">40</text>
<line x1="545.50" y1="246.40" x2="547.30" y2="246.40" stroke="#bdbdbd" stroke-width="0.7"/>
<text x="0" y="0" font-size="10.0" text-anchor="end" fill="#333" transform="translate(540.90,249.90) scale(0.92,1)">20</text>
<line x1="567.70" y1="246.40" x2="567.70" y2="244.60" stroke="#bdbdbd" stroke-width="0.7"/>
<text x="0" y="0" font-size="10.0" text-anchor="middle" fill="#333" transform="translate(567.70,258.30) scale(0.92,1)">20</text>
<line x1="594.00" y1="246.40" x2="594.00" y2="244.60" stroke="#bdbdbd" stroke-width="0.7"/>
<text x="0" y="0" font-size="10.0" text-anchor="middle" fill="#333" transform="translate(594.00,258.30) scale(0.92,1)">40</text>
<line x1="620.60" y1="246.40" x2="620.60" y2="244.60" stroke="#bdbdbd" stroke-width="0.7"/>
<text x="0" y="0" font-size="10.0" text-anchor="middle" fill="#333" transform="translate(620.60,258.30) scale(0.92,1)">60</text>
<line x1="647.20" y1="246.40" x2="647.20" y2="244.60" stroke="#bdbdbd" stroke-width="0.7"/>
<text x="0" y="0" font-size="10.0" text-anchor="middle" fill="#333" transform="translate(647.20,258.30) scale(0.92,1)">80</text>
<line x1="673.60" y1="246.40" x2="673.60" y2="244.60" stroke="#bdbdbd" stroke-width="0.7"/>
<text x="0" y="0" font-size="10.0" text-anchor="middle" fill="#333" transform="translate(673.60,258.30) scale(0.92,1)">100</text>
<path d="M545.40,203.10 C546.23,204.15 548.70,207.32 550.40,209.40 C552.10,211.48 553.95,214.13 555.60,215.60 C557.25,217.07 558.73,218.20 560.30,218.20 C561.87,218.20 563.52,216.72 565.00,215.60 C566.48,214.48 567.82,213.58 569.20,211.50 C570.58,209.42 571.92,205.53 573.30,203.10 C574.68,200.67 576.10,198.63 577.50,196.90 C578.90,195.17 580.32,193.75 581.70,192.70 C583.08,191.65 584.42,190.98 585.80,190.60 C587.18,190.22 588.26,190.22 590.00,190.40 C591.74,190.58 594.17,191.23 596.25,191.70 C598.33,192.17 600.76,192.77 602.50,193.20 C604.24,193.63 605.45,194.23 606.70,194.30 C607.95,194.37 608.73,193.93 610.00,193.60 C611.27,193.27 613.02,192.57 614.30,192.30 C615.58,192.03 616.62,192.73 617.70,192.00 C618.78,191.27 619.93,190.15 620.80,187.90 C621.67,185.65 622.03,181.80 622.90,178.50 C623.77,175.20 624.95,170.87 626.00,168.10 C627.05,165.33 628.15,163.50 629.20,161.90 C630.25,160.30 631.27,158.50 632.30,158.50 C633.33,158.50 634.53,159.78 635.40,161.90 C636.27,164.03 636.80,167.95 637.50,171.25 C638.20,174.55 638.98,178.57 639.60,181.70 C640.22,184.82 640.73,187.25 641.20,190.00 C641.67,192.75 641.62,195.47 642.40,198.20 C643.18,200.92 644.35,203.82 645.90,206.35 C647.45,208.88 649.95,211.64 651.70,213.40 C653.45,215.16 655.03,216.23 656.40,216.90 C657.77,217.57 658.53,217.90 659.90,217.40 C661.27,216.90 663.05,215.55 664.60,213.90 C666.15,212.25 667.72,209.63 669.20,207.50 C670.68,205.37 672.78,202.17 673.50,201.10" fill="none" stroke="#f42828" stroke-width="1.25" stroke-linejoin="round" stroke-linecap="round"/>
<text x="0" y="0" font-size="10.6" text-anchor="middle" fill="#2e2e2e" transform="translate(518.40,197.80) rotate(-90)"><tspan font-style="italic">q</tspan><tspan font-size="7" dy="2.2">5</tspan><tspan dy="-2.2"> (degrees)</tspan></text>
<path d="M356.10,353.50 C356.88,351.42 359.32,344.82 360.80,341.00 C362.28,337.18 363.60,334.07 365.00,330.60 C366.40,327.13 367.98,323.50 369.20,320.20 C370.42,316.90 371.27,313.92 372.30,310.80 C373.33,307.68 374.37,304.62 375.40,301.50 C376.43,298.38 377.45,295.23 378.50,292.10 C379.55,288.97 380.65,285.13 381.70,282.70 C382.75,280.27 383.58,278.97 384.80,277.50 C386.02,276.03 387.43,274.77 389.00,273.90 C390.57,273.03 392.47,272.40 394.20,272.30 C395.93,272.20 397.67,272.60 399.40,273.30 C401.13,274.00 402.80,274.93 404.60,276.50 C406.40,278.07 408.40,280.88 410.20,282.70 C412.00,284.52 413.67,286.10 415.40,287.40 C417.13,288.70 418.87,289.47 420.60,290.50 C422.33,291.53 424.07,292.82 425.80,293.60 C427.53,294.38 429.26,294.76 431.00,295.20 C432.74,295.64 434.50,295.55 436.25,296.25 C438.00,296.95 439.76,298.01 441.50,299.40 C443.24,300.79 445.15,302.87 446.70,304.60 C448.25,306.33 449.42,307.72 450.80,309.80 C452.18,311.88 453.95,315.02 455.00,317.10 C456.05,319.18 456.06,320.22 457.10,322.30 C458.14,324.38 459.87,327.00 461.25,329.60 C462.63,332.20 464.19,335.47 465.40,337.90 C466.61,340.33 467.45,341.93 468.50,344.20 C469.55,346.47 470.65,349.07 471.70,351.50 C472.75,353.93 473.77,356.67 474.80,358.75 C475.83,360.83 476.87,362.79 477.90,364.00 C478.93,365.21 479.95,366.00 481.00,366.00 C482.05,366.00 483.23,365.03 484.20,364.00 C485.17,362.97 485.93,360.93 486.80,359.80 C487.67,358.67 488.97,357.63 489.40,357.20 L489.40,356.70 C488.88,357.38 487.47,359.07 486.25,360.80 C485.03,362.53 483.31,365.80 482.10,367.10 C480.89,368.40 480.05,368.95 479.00,368.60 C477.95,368.25 476.85,366.47 475.80,365.00 C474.75,363.53 473.73,361.72 472.70,359.80 C471.67,357.88 470.63,355.76 469.60,353.50 C468.57,351.24 467.55,348.50 466.50,346.25 C465.45,344.00 464.52,341.91 463.30,340.00 C462.08,338.09 460.75,336.72 459.20,334.80 C457.65,332.88 455.74,330.76 454.00,328.50 C452.26,326.24 450.15,323.15 448.75,321.25 C447.35,319.35 446.81,318.49 445.60,317.10 C444.39,315.71 443.06,313.95 441.50,312.90 C439.94,311.85 438.00,311.49 436.25,310.80 C434.50,310.11 432.74,309.53 431.00,308.75 C429.26,307.97 427.53,307.06 425.80,306.10 C424.07,305.14 422.33,303.87 420.60,303.00 C418.87,302.13 417.13,301.85 415.40,300.90 C413.67,299.95 412.35,298.85 410.20,297.30 C408.05,295.75 404.82,293.08 402.50,291.60 C400.18,290.12 398.17,288.93 396.25,288.40 C394.33,287.87 392.56,288.05 391.00,288.40 C389.44,288.75 388.11,289.37 386.90,290.50 C385.69,291.63 384.80,293.03 383.75,295.20 C382.70,297.37 381.64,300.72 380.60,303.50 C379.56,306.28 378.53,309.48 377.50,311.90 C376.47,314.32 375.44,315.92 374.40,318.00 C373.36,320.08 372.65,321.08 371.25,324.40 C369.85,327.72 367.74,333.22 366.00,337.90 C364.26,342.58 362.45,347.82 360.80,352.50 C359.15,357.18 356.88,363.75 356.10,366.00 Z" fill="#e4e4e4" stroke="none"/>
<path d="M356.10,353.50 C356.88,351.42 359.32,344.82 360.80,341.00 C362.28,337.18 363.60,334.07 365.00,330.60 C366.40,327.13 367.98,323.50 369.20,320.20 C370.42,316.90 371.27,313.92 372.30,310.80 C373.33,307.68 374.37,304.62 375.40,301.50 C376.43,298.38 377.45,295.23 378.50,292.10 C379.55,288.97 380.65,285.13 381.70,282.70 C382.75,280.27 383.58,278.97 384.80,277.50 C386.02,276.03 387.43,274.77 389.00,273.90 C390.57,273.03 392.47,272.40 394.20,272.30 C395.93,272.20 397.67,272.60 399.40,273.30 C401.13,274.00 402.80,274.93 404.60,276.50 C406.40,278.07 408.40,280.88 410.20,282.70 C412.00,284.52 413.67,286.10 415.40,287.40 C417.13,288.70 418.87,289.47 420.60,290.50 C422.33,291.53 424.07,292.82 425.80,293.60 C427.53,294.38 429.26,294.76 431.00,295.20 C432.74,295.64 434.50,295.55 436.25,296.25 C438.00,296.95 439.76,298.01 441.50,299.40 C443.24,300.79 445.15,302.87 446.70,304.60 C448.25,306.33 449.42,307.72 450.80,309.80 C452.18,311.88 453.95,315.02 455.00,317.10 C456.05,319.18 456.06,320.22 457.10,322.30 C458.14,324.38 459.87,327.00 461.25,329.60 C462.63,332.20 464.19,335.47 465.40,337.90 C466.61,340.33 467.45,341.93 468.50,344.20 C469.55,346.47 470.65,349.07 471.70,351.50 C472.75,353.93 473.77,356.67 474.80,358.75 C475.83,360.83 476.87,362.79 477.90,364.00 C478.93,365.21 479.95,366.00 481.00,366.00 C482.05,366.00 483.23,365.03 484.20,364.00 C485.17,362.97 485.93,360.93 486.80,359.80 C487.67,358.67 488.97,357.63 489.40,357.20" fill="none" stroke="#7e7e7e" stroke-width="0.55"/>
<path d="M356.10,366.00 C356.88,363.75 359.15,357.18 360.80,352.50 C362.45,347.82 364.26,342.58 366.00,337.90 C367.74,333.22 369.85,327.72 371.25,324.40 C372.65,321.08 373.36,320.08 374.40,318.00 C375.44,315.92 376.47,314.32 377.50,311.90 C378.53,309.48 379.56,306.28 380.60,303.50 C381.64,300.72 382.70,297.37 383.75,295.20 C384.80,293.03 385.69,291.63 386.90,290.50 C388.11,289.37 389.44,288.75 391.00,288.40 C392.56,288.05 394.33,287.87 396.25,288.40 C398.17,288.93 400.18,290.12 402.50,291.60 C404.82,293.08 408.05,295.75 410.20,297.30 C412.35,298.85 413.67,299.95 415.40,300.90 C417.13,301.85 418.87,302.13 420.60,303.00 C422.33,303.87 424.07,305.14 425.80,306.10 C427.53,307.06 429.26,307.97 431.00,308.75 C432.74,309.53 434.50,310.11 436.25,310.80 C438.00,311.49 439.94,311.85 441.50,312.90 C443.06,313.95 444.39,315.71 445.60,317.10 C446.81,318.49 447.35,319.35 448.75,321.25 C450.15,323.15 452.26,326.24 454.00,328.50 C455.74,330.76 457.65,332.88 459.20,334.80 C460.75,336.72 462.08,338.09 463.30,340.00 C464.52,341.91 465.45,344.00 466.50,346.25 C467.55,348.50 468.57,351.24 469.60,353.50 C470.63,355.76 471.67,357.88 472.70,359.80 C473.73,361.72 474.75,363.53 475.80,365.00 C476.85,366.47 477.95,368.25 479.00,368.60 C480.05,368.95 480.89,368.40 482.10,367.10 C483.31,365.80 485.03,362.53 486.25,360.80 C487.47,359.07 488.88,357.38 489.40,356.70" fill="none" stroke="#7e7e7e" stroke-width="0.55"/>
<line x1="489.40" y1="357.20" x2="489.40" y2="356.70" stroke="#7e7e7e" stroke-width="0.55"/>
<line x1="356.10" y1="353.50" x2="356.10" y2="366.00" stroke="#7e7e7e" stroke-width="0.55"/>
<line x1="356.10" y1="272.50" x2="356.10" y2="369.20" stroke="#bdbdbd" stroke-width="0.9"/>
<line x1="356.10" y1="369.20" x2="489.40" y2="369.20" stroke="#bdbdbd" stroke-width="0.9"/>
<line x1="356.10" y1="280.40" x2="357.90" y2="280.40" stroke="#bdbdbd" stroke-width="0.7"/>
<text x="0" y="0" font-size="10.0" text-anchor="end" fill="#333" transform="translate(351.50,283.90) scale(0.92,1)">80</text>
<line x1="356.10" y1="301.60" x2="357.90" y2="301.60" stroke="#bdbdbd" stroke-width="0.7"/>
<text x="0" y="0" font-size="10.0" text-anchor="end" fill="#333" transform="translate(351.50,305.10) scale(0.92,1)">70</text>
<line x1="356.10" y1="323.10" x2="357.90" y2="323.10" stroke="#bdbdbd" stroke-width="0.7"/>
<text x="0" y="0" font-size="10.0" text-anchor="end" fill="#333" transform="translate(351.50,326.60) scale(0.92,1)">60</text>
<line x1="356.10" y1="344.90" x2="357.90" y2="344.90" stroke="#bdbdbd" stroke-width="0.7"/>
<text x="0" y="0" font-size="10.0" text-anchor="end" fill="#333" transform="translate(351.50,348.40) scale(0.92,1)">50</text>
<line x1="356.10" y1="366.60" x2="357.90" y2="366.60" stroke="#bdbdbd" stroke-width="0.7"/>
<text x="0" y="0" font-size="10.0" text-anchor="end" fill="#333" transform="translate(351.50,370.10) scale(0.92,1)">40</text>
<line x1="380.10" y1="369.20" x2="380.10" y2="367.40" stroke="#bdbdbd" stroke-width="0.7"/>
<text x="0" y="0" font-size="10.0" text-anchor="middle" fill="#333" transform="translate(380.10,381.10) scale(0.92,1)">20</text>
<line x1="407.10" y1="369.20" x2="407.10" y2="367.40" stroke="#bdbdbd" stroke-width="0.7"/>
<text x="0" y="0" font-size="10.0" text-anchor="middle" fill="#333" transform="translate(407.10,381.10) scale(0.92,1)">40</text>
<line x1="434.40" y1="369.20" x2="434.40" y2="367.40" stroke="#bdbdbd" stroke-width="0.7"/>
<text x="0" y="0" font-size="10.0" text-anchor="middle" fill="#333" transform="translate(434.40,381.10) scale(0.92,1)">60</text>
<line x1="461.30" y1="369.20" x2="461.30" y2="367.40" stroke="#bdbdbd" stroke-width="0.7"/>
<text x="0" y="0" font-size="10.0" text-anchor="middle" fill="#333" transform="translate(461.30,381.10) scale(0.92,1)">80</text>
<line x1="489.20" y1="369.20" x2="489.20" y2="367.40" stroke="#bdbdbd" stroke-width="0.7"/>
<text x="0" y="0" font-size="10.0" text-anchor="middle" fill="#333" transform="translate(489.20,381.10) scale(0.92,1)">100</text>
<path d="M356.10,366.60 C356.88,364.60 359.32,358.68 360.80,354.60 C362.28,350.52 363.43,346.45 365.00,342.10 C366.57,337.75 368.63,332.18 370.20,328.50 C371.77,324.82 373.02,322.60 374.40,320.00 C375.78,317.40 376.94,315.47 378.50,312.90 C380.06,310.33 382.00,307.20 383.75,304.60 C385.50,302.00 387.26,299.73 389.00,297.30 C390.74,294.87 392.65,291.92 394.20,290.00 C395.75,288.08 396.92,286.88 398.30,285.80 C399.68,284.72 401.10,283.88 402.50,283.50 C403.90,283.12 405.42,283.12 406.70,283.50 C407.98,283.88 408.75,284.72 410.20,285.80 C411.65,286.88 414.02,288.60 415.40,290.00 C416.78,291.40 417.45,293.30 418.50,294.20 C419.55,295.10 420.48,295.37 421.70,295.40 C422.92,295.43 424.42,294.52 425.80,294.40 C427.18,294.28 428.78,294.39 430.00,294.70 C431.22,295.01 432.06,295.30 433.10,296.25 C434.14,297.20 435.03,298.66 436.25,300.40 C437.47,302.14 439.01,304.62 440.40,306.70 C441.79,308.78 443.21,310.77 444.60,312.90 C445.99,315.03 447.72,317.77 448.75,319.50 C449.78,321.23 449.59,321.45 450.80,323.30 C452.01,325.15 454.26,328.52 456.00,330.60 C457.74,332.68 459.50,334.07 461.25,335.80 C463.00,337.53 464.76,338.92 466.50,341.00 C468.24,343.08 470.15,345.87 471.70,348.30 C473.25,350.73 474.42,353.33 475.80,355.60 C477.18,357.87 478.78,360.33 480.00,361.90 C481.22,363.47 482.23,364.40 483.10,365.00 C483.97,365.60 484.50,365.77 485.20,365.50 C485.90,365.23 486.60,364.18 487.30,363.40 C488.00,362.62 489.05,361.23 489.40,360.80" fill="none" stroke="#f42828" stroke-width="1.25" stroke-linejoin="round" stroke-linecap="round"/>
<text x="0" y="0" font-size="10.6" text-anchor="middle" fill="#2e2e2e" transform="translate(328.50,318.50) rotate(-90)"><tspan font-style="italic">q</tspan><tspan font-size="7" dy="2.2">3</tspan><tspan dy="-2.2"> (degrees)</tspan></text>
<path d="M545.50,336.90 C545.97,337.58 547.13,339.44 548.30,341.00 C549.47,342.56 551.10,344.68 552.50,346.25 C553.90,347.82 555.32,349.52 556.70,350.40 C558.08,351.27 559.42,351.67 560.80,351.50 C562.18,351.33 563.43,350.80 565.00,349.40 C566.57,348.00 568.63,345.37 570.20,343.10 C571.77,340.83 573.02,338.57 574.40,335.80 C575.78,333.03 577.28,329.13 578.50,326.50 C579.72,323.87 580.48,322.62 581.70,320.00 C582.92,317.38 584.25,313.72 585.80,310.80 C587.35,307.88 589.26,305.10 591.00,302.50 C592.74,299.90 594.50,297.45 596.25,295.20 C598.00,292.95 599.76,290.65 601.50,289.00 C603.24,287.35 605.25,286.05 606.70,285.30 C608.15,284.55 608.75,284.72 610.20,284.50 C611.65,284.28 613.67,284.03 615.40,284.00 C617.13,283.97 618.87,284.08 620.60,284.30 C622.33,284.52 623.88,284.95 625.80,285.30 C627.72,285.65 630.18,286.48 632.10,286.40 C634.02,286.32 635.83,285.50 637.30,284.80 C638.77,284.10 639.68,282.63 640.90,282.20 C642.12,281.77 643.47,281.60 644.60,282.20 C645.73,282.80 646.67,284.33 647.70,285.80 C648.73,287.27 649.75,289.08 650.80,291.00 C651.85,292.92 652.95,295.22 654.00,297.30 C655.05,299.38 656.07,301.42 657.10,303.50 C658.13,305.58 659.17,307.72 660.20,309.80 C661.23,311.88 662.15,313.57 663.30,316.00 C664.45,318.43 665.77,321.78 667.10,324.40 C668.43,327.02 670.15,330.05 671.25,331.70 C672.35,333.35 673.29,333.87 673.70,334.30 L673.70,362.40 C673.29,361.62 672.35,359.52 671.25,357.70 C670.15,355.88 668.49,353.58 667.10,351.50 C665.71,349.42 664.29,347.82 662.90,345.20 C661.51,342.58 660.13,338.58 658.75,335.80 C657.37,333.02 656.16,330.93 654.60,328.50 C653.04,326.07 650.90,323.33 649.40,321.25 C647.90,319.17 646.75,317.31 645.60,316.00 C644.45,314.69 643.53,314.00 642.50,313.40 C641.47,312.80 640.62,312.30 639.40,312.40 C638.18,312.50 636.60,313.30 635.20,314.00 C633.80,314.70 632.57,315.92 631.00,316.60 C629.43,317.28 627.53,317.85 625.80,318.10 C624.07,318.35 622.33,318.18 620.60,318.10 C618.87,318.02 617.13,317.68 615.40,317.60 C613.67,317.52 611.83,317.48 610.20,317.60 C608.57,317.72 607.23,318.03 605.60,318.30 C603.97,318.57 602.13,318.53 600.40,319.20 C598.67,319.87 596.93,320.92 595.20,322.30 C593.47,323.68 591.73,325.42 590.00,327.50 C588.27,329.58 586.53,332.20 584.80,334.80 C583.07,337.40 581.33,340.15 579.60,343.10 C577.87,346.05 576.13,349.55 574.40,352.50 C572.67,355.45 570.93,358.55 569.20,360.80 C567.47,363.05 565.74,364.70 564.00,366.00 C562.26,367.30 560.50,368.07 558.75,368.60 C557.00,369.13 555.06,369.28 553.50,369.20 C551.94,369.12 550.73,368.63 549.40,368.10 C548.07,367.57 546.15,366.35 545.50,366.00 Z" fill="#e4e4e4" stroke="none"/>
<path d="M545.50,336.90 C545.97,337.58 547.13,339.44 548.30,341.00 C549.47,342.56 551.10,344.68 552.50,346.25 C553.90,347.82 555.32,349.52 556.70,350.40 C558.08,351.27 559.42,351.67 560.80,351.50 C562.18,351.33 563.43,350.80 565.00,349.40 C566.57,348.00 568.63,345.37 570.20,343.10 C571.77,340.83 573.02,338.57 574.40,335.80 C575.78,333.03 577.28,329.13 578.50,326.50 C579.72,323.87 580.48,322.62 581.70,320.00 C582.92,317.38 584.25,313.72 585.80,310.80 C587.35,307.88 589.26,305.10 591.00,302.50 C592.74,299.90 594.50,297.45 596.25,295.20 C598.00,292.95 599.76,290.65 601.50,289.00 C603.24,287.35 605.25,286.05 606.70,285.30 C608.15,284.55 608.75,284.72 610.20,284.50 C611.65,284.28 613.67,284.03 615.40,284.00 C617.13,283.97 618.87,284.08 620.60,284.30 C622.33,284.52 623.88,284.95 625.80,285.30 C627.72,285.65 630.18,286.48 632.10,286.40 C634.02,286.32 635.83,285.50 637.30,284.80 C638.77,284.10 639.68,282.63 640.90,282.20 C642.12,281.77 643.47,281.60 644.60,282.20 C645.73,282.80 646.67,284.33 647.70,285.80 C648.73,287.27 649.75,289.08 650.80,291.00 C651.85,292.92 652.95,295.22 654.00,297.30 C655.05,299.38 656.07,301.42 657.10,303.50 C658.13,305.58 659.17,307.72 660.20,309.80 C661.23,311.88 662.15,313.57 663.30,316.00 C664.45,318.43 665.77,321.78 667.10,324.40 C668.43,327.02 670.15,330.05 671.25,331.70 C672.35,333.35 673.29,333.87 673.70,334.30" fill="none" stroke="#7e7e7e" stroke-width="0.55"/>
<path d="M545.50,366.00 C546.15,366.35 548.07,367.57 549.40,368.10 C550.73,368.63 551.94,369.12 553.50,369.20 C555.06,369.28 557.00,369.13 558.75,368.60 C560.50,368.07 562.26,367.30 564.00,366.00 C565.74,364.70 567.47,363.05 569.20,360.80 C570.93,358.55 572.67,355.45 574.40,352.50 C576.13,349.55 577.87,346.05 579.60,343.10 C581.33,340.15 583.07,337.40 584.80,334.80 C586.53,332.20 588.27,329.58 590.00,327.50 C591.73,325.42 593.47,323.68 595.20,322.30 C596.93,320.92 598.67,319.87 600.40,319.20 C602.13,318.53 603.97,318.57 605.60,318.30 C607.23,318.03 608.57,317.72 610.20,317.60 C611.83,317.48 613.67,317.52 615.40,317.60 C617.13,317.68 618.87,318.02 620.60,318.10 C622.33,318.18 624.07,318.35 625.80,318.10 C627.53,317.85 629.43,317.28 631.00,316.60 C632.57,315.92 633.80,314.70 635.20,314.00 C636.60,313.30 638.18,312.50 639.40,312.40 C640.62,312.30 641.47,312.80 642.50,313.40 C643.53,314.00 644.45,314.69 645.60,316.00 C646.75,317.31 647.90,319.17 649.40,321.25 C650.90,323.33 653.04,326.07 654.60,328.50 C656.16,330.93 657.37,333.02 658.75,335.80 C660.13,338.58 661.51,342.58 662.90,345.20 C664.29,347.82 665.71,349.42 667.10,351.50 C668.49,353.58 670.15,355.88 671.25,357.70 C672.35,359.52 673.29,361.62 673.70,362.40" fill="none" stroke="#7e7e7e" stroke-width="0.55"/>
<line x1="673.70" y1="334.30" x2="673.70" y2="362.40" stroke="#7e7e7e" stroke-width="0.55"/>
<line x1="545.50" y1="336.90" x2="545.50" y2="366.00" stroke="#7e7e7e" stroke-width="0.55"/>
<line x1="545.60" y1="272.40" x2="545.60" y2="369.50" stroke="#bdbdbd" stroke-width="0.9"/>
<line x1="545.60" y1="369.50" x2="673.60" y2="369.50" stroke="#bdbdbd" stroke-width="0.9"/>
<line x1="545.60" y1="272.50" x2="547.40" y2="272.50" stroke="#bdbdbd" stroke-width="0.7"/>
<text x="0" y="0" font-size="10.0" text-anchor="end" fill="#333" transform="translate(541.00,276.00) scale(0.92,1)">140</text>
<line x1="545.60" y1="302.40" x2="547.40" y2="302.40" stroke="#bdbdbd" stroke-width="0.7"/>
<text x="0" y="0" font-size="10.0" text-anchor="end" fill="#333" transform="translate(541.00,305.90) scale(0.92,1)">120</text>
<line x1="545.60" y1="332.10" x2="547.40" y2="332.10" stroke="#bdbdbd" stroke-width="0.7"/>
<text x="0" y="0" font-size="10.0" text-anchor="end" fill="#333" transform="translate(541.00,335.60) scale(0.92,1)">100</text>
<line x1="545.60" y1="362.10" x2="547.40" y2="362.10" stroke="#bdbdbd" stroke-width="0.7"/>
<text x="0" y="0" font-size="10.0" text-anchor="end" fill="#333" transform="translate(541.00,365.60) scale(0.92,1)">80</text>
<line x1="568.20" y1="369.50" x2="568.20" y2="367.70" stroke="#bdbdbd" stroke-width="0.7"/>
<text x="0" y="0" font-size="10.0" text-anchor="middle" fill="#333" transform="translate(568.20,381.40) scale(0.92,1)">20</text>
<line x1="594.40" y1="369.50" x2="594.40" y2="367.70" stroke="#bdbdbd" stroke-width="0.7"/>
<text x="0" y="0" font-size="10.0" text-anchor="middle" fill="#333" transform="translate(594.40,381.40) scale(0.92,1)">40</text>
<line x1="620.90" y1="369.50" x2="620.90" y2="367.70" stroke="#bdbdbd" stroke-width="0.7"/>
<text x="0" y="0" font-size="10.0" text-anchor="middle" fill="#333" transform="translate(620.90,381.40) scale(0.92,1)">60</text>
<line x1="647.40" y1="369.50" x2="647.40" y2="367.70" stroke="#bdbdbd" stroke-width="0.7"/>
<text x="0" y="0" font-size="10.0" text-anchor="middle" fill="#333" transform="translate(647.40,381.40) scale(0.92,1)">80</text>
<line x1="673.60" y1="369.50" x2="673.60" y2="367.70" stroke="#bdbdbd" stroke-width="0.7"/>
<text x="0" y="0" font-size="10.0" text-anchor="middle" fill="#333" transform="translate(673.60,381.40) scale(0.92,1)">100</text>
<path d="M545.50,319.70 C545.97,320.83 547.30,324.16 548.30,326.50 C549.30,328.84 550.45,331.15 551.50,333.75 C552.55,336.35 553.57,339.49 554.60,342.10 C555.63,344.71 556.67,347.15 557.70,349.40 C558.73,351.65 559.58,353.70 560.80,355.60 C562.02,357.50 563.78,360.28 565.00,360.80 C566.22,361.32 567.06,359.97 568.10,358.75 C569.14,357.53 570.20,355.58 571.25,353.50 C572.30,351.42 573.27,348.67 574.40,346.25 C575.52,343.83 576.44,341.43 578.00,339.00 C579.56,336.57 581.75,334.13 583.75,331.70 C585.75,329.27 587.74,327.18 590.00,324.40 C592.26,321.62 595.22,317.61 597.30,315.00 C599.38,312.39 600.77,310.32 602.50,308.75 C604.23,307.18 606.45,306.29 607.70,305.60 C608.95,304.91 609.07,304.80 610.00,304.60 C610.93,304.40 611.88,304.15 613.30,304.40 C614.72,304.65 616.76,305.55 618.50,306.10 C620.24,306.65 622.35,307.70 623.75,307.70 C625.15,307.70 625.86,307.32 626.90,306.10 C627.94,304.88 628.78,302.57 630.00,300.40 C631.22,298.23 632.82,295.53 634.20,293.10 C635.58,290.67 637.18,287.57 638.30,285.80 C639.42,284.03 640.03,283.18 640.90,282.50 C641.77,281.82 642.72,281.15 643.50,281.70 C644.28,282.25 644.73,283.90 645.60,285.80 C646.48,287.70 647.53,290.48 648.75,293.10 C649.97,295.72 651.51,299.07 652.90,301.50 C654.29,303.93 655.71,306.15 657.10,307.70 C658.49,309.25 659.87,310.02 661.25,310.80 C662.63,311.58 664.01,311.78 665.40,312.40 C666.79,313.02 668.22,313.55 669.60,314.50 C670.98,315.45 673.02,317.50 673.70,318.10" fill="none" stroke="#f42828" stroke-width="1.25" stroke-linejoin="round" stroke-linecap="round"/>
<text x="0" y="0" font-size="10.6" text-anchor="middle" fill="#2e2e2e" transform="translate(518.40,318.50) rotate(-90)"><tspan font-style="italic">q</tspan><tspan font-size="7" dy="2.2">4</tspan><tspan dy="-2.2"> (degrees)</tspan></text>
<text x="422.50" y="398.70" font-size="10.5" text-anchor="middle" fill="#2e2e2e" font-weight="normal" >Period percentage (%)</text>
<text x="611.00" y="398.70" font-size="10.5" text-anchor="middle" fill="#2e2e2e" font-weight="normal" >Period percentagee (%)</text>
<line x1="339.1" y1="443.5" x2="366" y2="443.5" stroke="#c2c2c2" stroke-width="1.3"/>
<circle cx="353.1" cy="443.5" r="4.8" fill="#8a8a8a"/>
<line x1="339.1" y1="476.1" x2="366" y2="476.1" stroke="#f2646e" stroke-width="1.3"/>
<circle cx="353.1" cy="476.1" r="4.8" fill="#e30613"/>
<text x="371.00" y="447.30" font-size="10.9" text-anchor="start" fill="#2e2e2e" font-weight="normal" >Animal end-effector</text>
<text x="371.00" y="459.70" font-size="10.9" text-anchor="start" fill="#2e2e2e" font-weight="normal" >evolution</text>
<text x="371.00" y="479.60" font-size="10.9" text-anchor="start" fill="#2e2e2e" font-weight="normal" >Tracking achievable</text>
<text x="371.00" y="491.80" font-size="10.9" text-anchor="start" fill="#2e2e2e" font-weight="normal" >with two synergies</text>
<text x="526.20" y="420.40" font-size="10.7" text-anchor="start" fill="#2e2e2e" font-weight="normal" >Hindleg</text>
<text x="649.70" y="420.40" font-size="10.7" text-anchor="start" fill="#2e2e2e" font-weight="normal" >Foreleg</text>
<line x1="529.2" y1="427.8" x2="679.6" y2="427.8" stroke="#cfcfcf" stroke-width="2.2"/>
<line x1="529.2" y1="427.8" x2="679.6" y2="427.8" stroke="#ececec" stroke-width="0.8"/>
<line x1="529.2" y1="444.7" x2="679.6" y2="444.7" stroke="#cfcfcf" stroke-width="2.4"/>
<line x1="529.2" y1="444.7" x2="679.6" y2="444.7" stroke="#ececec" stroke-width="0.8"/>
<line x1="529.2" y1="425.7" x2="529.2" y2="447.6" stroke="#b0b0b0" stroke-width="1.3"/>
<line x1="679.6" y1="425.7" x2="679.6" y2="447.6" stroke="#8c8c8c" stroke-width="1.3"/>
<path d="M666,431.5 L679,431 L679,442 L668,442 Z" fill="#e0e0e0"/>
<path d="M531,431 L540,431 L540,442 L531,442 Z" fill="#e0e0e0"/>
<path d="M534.00,489.80 L544.20,489.80 L540.80,510.30 L537.40,510.30 Z" fill="#e4e4e4"/>
<line x1="534.20" y1="489.80" x2="534.50" y2="500.30" stroke="#8f8f8f" stroke-width="0.8"/>
<line x1="544.00" y1="489.80" x2="543.80" y2="496.80" stroke="#a5a5a5" stroke-width="0.6"/>
<circle cx="539.30" cy="515.30" r="5.3" fill="#e3e3e3"/>
<circle cx="539.30" cy="509.80" r="0.5" fill="#999"/>
<circle cx="539.30" cy="520.70" r="0.95" fill="#f03030"/>
<path d="M662.00,489.80 L672.20,489.80 L668.80,510.30 L665.40,510.30 Z" fill="#e4e4e4"/>
<line x1="662.20" y1="489.80" x2="662.50" y2="500.30" stroke="#8f8f8f" stroke-width="0.8"/>
<line x1="672.00" y1="489.80" x2="671.80" y2="496.80" stroke="#a5a5a5" stroke-width="0.6"/>
<circle cx="667.10" cy="515.30" r="5.3" fill="#e3e3e3"/>
<circle cx="667.10" cy="509.80" r="0.5" fill="#999"/>
<circle cx="667.10" cy="520.70" r="0.95" fill="#f03030"/>
<line x1="535.30" y1="436.70" x2="564.30" y2="465.00" stroke="#a9a9a9" stroke-width="8.6" stroke-linecap="round"/>
<line x1="535.30" y1="436.70" x2="564.30" y2="465.00" stroke="#e0e0e0" stroke-width="7.6" stroke-linecap="round"/>
<circle cx="544.00" cy="445.19" r="0.45" fill="#999"/>
<circle cx="548.35" cy="449.44" r="0.45" fill="#999"/>
<circle cx="552.70" cy="453.68" r="0.45" fill="#999"/>
<circle cx="557.05" cy="457.93" r="0.45" fill="#999"/>
<line x1="564.30" y1="465.00" x2="539.10" y2="489.80" stroke="#a9a9a9" stroke-width="8.6" stroke-linecap="round"/>
<line x1="564.30" y1="465.00" x2="539.10" y2="489.80" stroke="#e0e0e0" stroke-width="7.6" stroke-linecap="round"/>
<circle cx="556.74" cy="472.44" r="0.45" fill="#999"/>
<circle cx="552.96" cy="476.16" r="0.45" fill="#999"/>
<circle cx="549.18" cy="479.88" r="0.45" fill="#999"/>
<circle cx="545.40" cy="483.60" r="0.45" fill="#999"/>
<line x1="671.25" y1="436.70" x2="642.30" y2="465.00" stroke="#a9a9a9" stroke-width="8.6" stroke-linecap="round"/>
<line x1="671.25" y1="436.70" x2="642.30" y2="465.00" stroke="#e0e0e0" stroke-width="7.6" stroke-linecap="round"/>
<circle cx="662.56" cy="445.19" r="0.45" fill="#999"/>
<circle cx="658.22" cy="449.44" r="0.45" fill="#999"/>
<circle cx="653.88" cy="453.68" r="0.45" fill="#999"/>
<circle cx="649.54" cy="457.93" r="0.45" fill="#999"/>
<line x1="642.30" y1="465.00" x2="667.10" y2="489.80" stroke="#a9a9a9" stroke-width="8.6" stroke-linecap="round"/>
<line x1="642.30" y1="465.00" x2="667.10" y2="489.80" stroke="#e0e0e0" stroke-width="7.6" stroke-linecap="round"/>
<circle cx="649.74" cy="472.44" r="0.45" fill="#999"/>
<circle cx="653.46" cy="476.16" r="0.45" fill="#999"/>
<circle cx="657.18" cy="479.88" r="0.45" fill="#999"/>
<circle cx="660.90" cy="483.60" r="0.45" fill="#999"/>
<circle cx="535.30" cy="436.70" r="5.6" fill="#e2e2e2" stroke="#b5b5b5" stroke-width="0.6"/>
<circle cx="535.30" cy="436.70" r="2.7" fill="none" stroke="#a8a8a8" stroke-width="0.5" stroke-dasharray="0.8,0.8"/>
<circle cx="535.30" cy="436.70" r="1.55" fill="#f65050"/>
<circle cx="564.30" cy="465.00" r="5.6" fill="#e2e2e2" stroke="#b5b5b5" stroke-width="0.6"/>
<circle cx="564.30" cy="465.00" r="2.7" fill="none" stroke="#a8a8a8" stroke-width="0.5" stroke-dasharray="0.8,0.8"/>
<circle cx="564.30" cy="465.00" r="1.55" fill="#f65050"/>
<circle cx="539.10" cy="489.80" r="5.6" fill="#e2e2e2" stroke="#b5b5b5" stroke-width="0.6"/>
<circle cx="539.10" cy="489.80" r="2.7" fill="none" stroke="#a8a8a8" stroke-width="0.5" stroke-dasharray="0.8,0.8"/>
<circle cx="539.10" cy="489.80" r="1.55" fill="#f65050"/>
<circle cx="671.25" cy="436.70" r="5.6" fill="#e2e2e2" stroke="#b5b5b5" stroke-width="0.6"/>
<circle cx="671.25" cy="436.70" r="2.7" fill="none" stroke="#a8a8a8" stroke-width="0.5" stroke-dasharray="0.8,0.8"/>
<circle cx="671.25" cy="436.70" r="1.55" fill="#f65050"/>
<circle cx="642.30" cy="465.00" r="5.6" fill="#e2e2e2" stroke="#b5b5b5" stroke-width="0.6"/>
<circle cx="642.30" cy="465.00" r="2.7" fill="none" stroke="#a8a8a8" stroke-width="0.5" stroke-dasharray="0.8,0.8"/>
<circle cx="642.30" cy="465.00" r="1.55" fill="#f65050"/>
<circle cx="667.10" cy="489.80" r="5.6" fill="#e2e2e2" stroke="#b5b5b5" stroke-width="0.6"/>
<circle cx="667.10" cy="489.80" r="2.7" fill="none" stroke="#a8a8a8" stroke-width="0.5" stroke-dasharray="0.8,0.8"/>
<circle cx="667.10" cy="489.80" r="1.55" fill="#f65050"/>
<text x="547.00" y="438.80" font-size="11" fill="#2e2e2e"><tspan font-style="italic">q</tspan><tspan font-size="7.4" dy="3.2">3</tspan></text>
<text x="572.10" y="467.20" font-size="11" fill="#2e2e2e"><tspan font-style="italic">q</tspan><tspan font-size="7.4" dy="3.2">2</tspan></text>
<text x="547.00" y="498.70" font-size="11" fill="#2e2e2e"><tspan font-style="italic">q</tspan><tspan font-size="7.4" dy="3.2">1</tspan></text>
<text x="650.60" y="438.80" font-size="11" fill="#2e2e2e"><tspan font-style="italic">q</tspan><tspan font-size="7.4" dy="3.2">4</tspan></text>
<text x="625.40" y="467.20" font-size="11" fill="#2e2e2e"><tspan font-style="italic">q</tspan><tspan font-size="7.4" dy="3.2">5</tspan></text>
<text x="651.20" y="498.70" font-size="11" fill="#2e2e2e"><tspan font-style="italic">q</tspan><tspan font-size="7.4" dy="3.2">6</tspan></text>
</svg>
</body></html>
